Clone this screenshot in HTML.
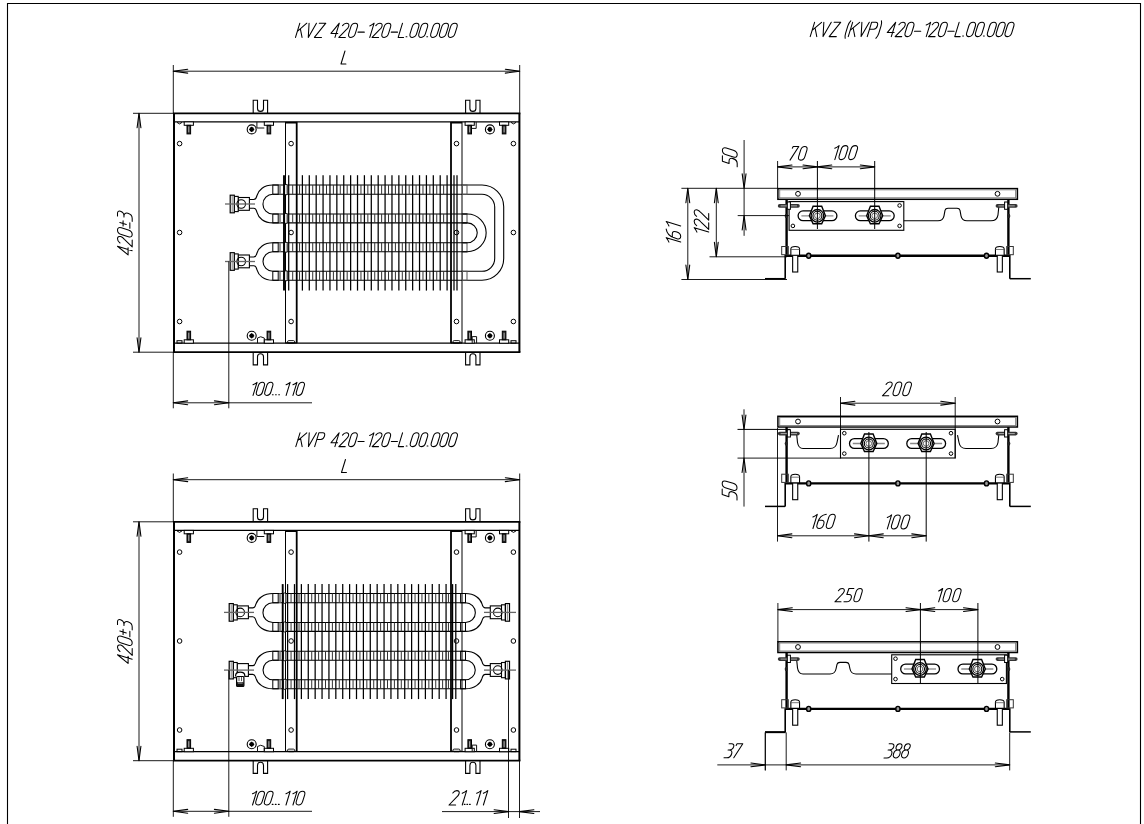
<!DOCTYPE html>
<html><head><meta charset="utf-8"><style>
html,body{margin:0;padding:0;background:#fff;}
svg{display:block;}
text{font-family:"Liberation Sans",sans-serif;font-style:italic;fill:#000;}
</style></head><body>
<svg width="1144" height="824" viewBox="0 0 1144 824" stroke-linecap="butt">
<rect x="0" y="0" width="1144" height="824" fill="#fff"/>
<path d="M7.5,830 L7.5,3.5 L1140.5,3.5 L1140.5,830" stroke="#000" stroke-width="1.1" fill="none"/>
<line x1="174" y1="113.3" x2="174" y2="352.2" stroke="#000" stroke-width="2"/>
<line x1="519.4" y1="113.3" x2="519.4" y2="352.2" stroke="#000" stroke-width="2"/>
<line x1="173" y1="113.3" x2="520.4" y2="113.3" stroke="#000" stroke-width="1.7"/>
<line x1="173" y1="352.2" x2="520.4" y2="352.2" stroke="#000" stroke-width="1.7"/>
<line x1="174" y1="121.9" x2="519.4" y2="121.9" stroke="#000" stroke-width="1.2"/>
<line x1="174" y1="343.2" x2="519.4" y2="343.2" stroke="#000" stroke-width="1.2"/>
<line x1="173.3" y1="65" x2="173.3" y2="113.3" stroke="#000" stroke-width="0.9"/>
<line x1="519.7" y1="65" x2="519.7" y2="113.3" stroke="#000" stroke-width="0.9"/>
<line x1="173.3" y1="71.2" x2="519.7" y2="71.2" stroke="#000" stroke-width="0.9"/>
<path d="M187.7,69.3 L173.3,71.2 L187.7,73.1" stroke="#000" stroke-width="1.1" fill="none" stroke-linecap="round" stroke-linejoin="round"/>
<path d="M505.3,73.1 L519.7,71.2 L505.3,69.3" stroke="#000" stroke-width="1.1" fill="none" stroke-linecap="round" stroke-linejoin="round"/>
<line x1="133" y1="113.3" x2="174" y2="113.3" stroke="#000" stroke-width="0.9"/>
<line x1="133" y1="352.2" x2="174" y2="352.2" stroke="#000" stroke-width="0.9"/>
<line x1="139" y1="113.3" x2="139" y2="352.2" stroke="#000" stroke-width="0.9"/>
<path d="M140.9,127.7 L139,113.3 L137.1,127.7" stroke="#000" stroke-width="1.1" fill="none" stroke-linecap="round" stroke-linejoin="round"/>
<path d="M137.1,337.8 L139,352.2 L140.9,337.8" stroke="#000" stroke-width="1.1" fill="none" stroke-linecap="round" stroke-linejoin="round"/>
<line x1="285.5" y1="121.9" x2="285.5" y2="343.2" stroke="#000" stroke-width="1"/>
<line x1="296.7" y1="121.9" x2="296.7" y2="343.2" stroke="#000" stroke-width="1.8"/>
<rect x="285.5" y="121.9" width="11.2" height="1.6" stroke="#000" stroke-width="0" fill="#000"/>
<rect x="287.5" y="340.6" width="7.2" height="2.6" rx="1.3" stroke="#000" stroke-width="0.9" fill="none"/>
<line x1="285.5" y1="342.9" x2="296.7" y2="342.9" stroke="#000" stroke-width="1.2"/>
<circle cx="291.1" cy="143.6" r="2.3" stroke="#000" stroke-width="1" fill="none"/>
<circle cx="291.1" cy="232.5" r="2.3" stroke="#000" stroke-width="1" fill="none"/>
<circle cx="291.1" cy="321.5" r="2.3" stroke="#000" stroke-width="1" fill="none"/>
<line x1="451" y1="121.9" x2="451" y2="343.2" stroke="#000" stroke-width="1.8"/>
<line x1="462" y1="121.9" x2="462" y2="343.2" stroke="#000" stroke-width="1"/>
<rect x="451" y="121.9" width="11" height="1.6" stroke="#000" stroke-width="0" fill="#000"/>
<rect x="452.9" y="340.6" width="7.2" height="2.6" rx="1.3" stroke="#000" stroke-width="0.9" fill="none"/>
<line x1="451" y1="342.9" x2="462" y2="342.9" stroke="#000" stroke-width="1.2"/>
<circle cx="456.5" cy="143.6" r="2.3" stroke="#000" stroke-width="1" fill="none"/>
<circle cx="456.5" cy="232.5" r="2.3" stroke="#000" stroke-width="1" fill="none"/>
<circle cx="456.5" cy="321.5" r="2.3" stroke="#000" stroke-width="1" fill="none"/>
<circle cx="179.6" cy="143.6" r="2.3" stroke="#000" stroke-width="1" fill="none"/>
<circle cx="179.6" cy="232.5" r="2.3" stroke="#000" stroke-width="1" fill="none"/>
<circle cx="179.6" cy="321.5" r="2.3" stroke="#000" stroke-width="1" fill="none"/>
<circle cx="513.4" cy="143.6" r="2.3" stroke="#000" stroke-width="1" fill="none"/>
<circle cx="513.4" cy="232.5" r="2.3" stroke="#000" stroke-width="1" fill="none"/>
<circle cx="513.4" cy="321.5" r="2.3" stroke="#000" stroke-width="1" fill="none"/>
<path d="M253.2,113 L253.2,100.3 L257.5,100.3 L257.5,108.4 A3.0,3.0 0 0 0 263.5,108.4 L263.5,100.3 L267.6,100.3 L267.6,113" stroke="#000" stroke-width="1.1" fill="none"/>
<path d="M465.6,113 L465.6,100.3 L469.9,100.3 L469.9,108.4 A3.0,3.0 0 0 0 475.9,108.4 L475.9,100.3 L480,100.3 L480,113" stroke="#000" stroke-width="1.1" fill="none"/>
<path d="M253.2,352.2 L253.2,352.2 L253.2,364.9 L257.5,364.9 L257.5,356.8 A3.0,3.0 0 0 1 263.5,356.8 L263.5,364.9 L267.6,364.9 L267.6,352.2" stroke="#000" stroke-width="1.1" fill="none"/>
<path d="M465.6,352.2 L465.6,352.2 L465.6,364.9 L469.9,364.9 L469.9,356.8 A3.0,3.0 0 0 1 475.9,356.8 L475.9,364.9 L480,364.9 L480,352.2" stroke="#000" stroke-width="1.1" fill="none"/>
<rect x="184.2" y="121.9" width="9.2" height="3.4" stroke="#000" stroke-width="1" fill="#fff"/>
<rect x="187" y="125.3" width="3.6" height="8.6" stroke="#000" stroke-width="1" fill="#222"/>
<line x1="188.8" y1="126.4" x2="188.8" y2="132.4" stroke="#ccc" stroke-width="0.9"/>
<rect x="184.2" y="339.8" width="9.2" height="3.4" stroke="#000" stroke-width="1" fill="#fff"/>
<rect x="187" y="331.2" width="3.6" height="8.6" stroke="#000" stroke-width="1" fill="#222"/>
<line x1="188.8" y1="338.7" x2="188.8" y2="332.7" stroke="#ccc" stroke-width="0.9"/>
<rect x="264.3" y="121.9" width="9.2" height="3.4" stroke="#000" stroke-width="1" fill="#fff"/>
<rect x="267.1" y="125.3" width="3.6" height="8.6" stroke="#000" stroke-width="1" fill="#222"/>
<line x1="268.9" y1="126.4" x2="268.9" y2="132.4" stroke="#ccc" stroke-width="0.9"/>
<rect x="264.3" y="339.8" width="9.2" height="3.4" stroke="#000" stroke-width="1" fill="#fff"/>
<rect x="267.1" y="331.2" width="3.6" height="8.6" stroke="#000" stroke-width="1" fill="#222"/>
<line x1="268.9" y1="338.7" x2="268.9" y2="332.7" stroke="#ccc" stroke-width="0.9"/>
<rect x="465.1" y="121.9" width="9.2" height="3.4" stroke="#000" stroke-width="1" fill="#fff"/>
<rect x="467.9" y="125.3" width="3.6" height="8.6" stroke="#000" stroke-width="1" fill="#222"/>
<line x1="469.7" y1="126.4" x2="469.7" y2="132.4" stroke="#ccc" stroke-width="0.9"/>
<rect x="465.1" y="339.8" width="9.2" height="3.4" stroke="#000" stroke-width="1" fill="#fff"/>
<rect x="467.9" y="331.2" width="3.6" height="8.6" stroke="#000" stroke-width="1" fill="#222"/>
<line x1="469.7" y1="338.7" x2="469.7" y2="332.7" stroke="#ccc" stroke-width="0.9"/>
<rect x="499.5" y="121.9" width="9.2" height="3.4" stroke="#000" stroke-width="1" fill="#fff"/>
<rect x="502.3" y="125.3" width="3.6" height="8.6" stroke="#000" stroke-width="1" fill="#222"/>
<line x1="504.1" y1="126.4" x2="504.1" y2="132.4" stroke="#ccc" stroke-width="0.9"/>
<rect x="499.5" y="339.8" width="9.2" height="3.4" stroke="#000" stroke-width="1" fill="#fff"/>
<rect x="502.3" y="331.2" width="3.6" height="8.6" stroke="#000" stroke-width="1" fill="#222"/>
<line x1="504.1" y1="338.7" x2="504.1" y2="332.7" stroke="#ccc" stroke-width="0.9"/>
<circle cx="251.7" cy="129.4" r="4.5" stroke="#000" stroke-width="1.1" fill="none"/>
<circle cx="251.7" cy="129.4" r="2.3" stroke="#000" stroke-width="0" fill="#000"/>
<line x1="249.1" y1="129.4" x2="254.3" y2="129.4" stroke="#000" stroke-width="1"/>
<line x1="251.7" y1="126.8" x2="251.7" y2="132" stroke="#000" stroke-width="1"/>
<circle cx="251.7" cy="335.8" r="4.5" stroke="#000" stroke-width="1.1" fill="none"/>
<circle cx="251.7" cy="335.8" r="2.3" stroke="#000" stroke-width="0" fill="#000"/>
<line x1="249.1" y1="335.8" x2="254.3" y2="335.8" stroke="#000" stroke-width="1"/>
<line x1="251.7" y1="333.2" x2="251.7" y2="338.4" stroke="#000" stroke-width="1"/>
<circle cx="489.9" cy="129.4" r="4.5" stroke="#000" stroke-width="1.1" fill="none"/>
<circle cx="489.9" cy="129.4" r="2.3" stroke="#000" stroke-width="0" fill="#000"/>
<line x1="487.3" y1="129.4" x2="492.5" y2="129.4" stroke="#000" stroke-width="1"/>
<line x1="489.9" y1="126.8" x2="489.9" y2="132" stroke="#000" stroke-width="1"/>
<circle cx="489.9" cy="335.8" r="4.5" stroke="#000" stroke-width="1.1" fill="none"/>
<circle cx="489.9" cy="335.8" r="2.3" stroke="#000" stroke-width="0" fill="#000"/>
<line x1="487.3" y1="335.8" x2="492.5" y2="335.8" stroke="#000" stroke-width="1"/>
<line x1="489.9" y1="333.2" x2="489.9" y2="338.4" stroke="#000" stroke-width="1"/>
<path d="M256.9,121.9 L256.9,128 L264.3,128" stroke="#111" stroke-width="1" fill="none"/>
<path d="M257.5,343.2 L257.5,338 Q260.5,335.5 264.3,338 L264.3,343.2" stroke="#111" stroke-width="1" fill="none"/>
<path d="M476.2,121.9 L476.2,128.4 L471.5,128.4" stroke="#111" stroke-width="1" fill="none"/>
<path d="M472.2,343.2 L472.2,336.6 L476.6,336.6 L476.6,343.2" stroke="#111" stroke-width="1" fill="none"/>
<path d="M177,122.4 Q179.5,125.4 182,122.4" stroke="#000" stroke-width="1" fill="none"/>
<path d="M511,122.4 Q513.5,125.4 516,122.4" stroke="#000" stroke-width="1" fill="none"/>
<rect x="177" y="340.7" width="5" height="2.5" stroke="#000" stroke-width="1" fill="none"/>
<rect x="511" y="340.7" width="5" height="2.5" stroke="#000" stroke-width="1" fill="none"/>
<line x1="272.8" y1="185" x2="482" y2="185" stroke="#000" stroke-width="1.1"/>
<line x1="272.8" y1="194.3" x2="482" y2="194.3" stroke="#000" stroke-width="1.1"/>
<line x1="286.35" y1="185" x2="286.35" y2="194.3" stroke="#333" stroke-width="1"/>
<line x1="292.7" y1="185" x2="292.7" y2="194.3" stroke="#333" stroke-width="1"/>
<line x1="299.55" y1="185" x2="299.55" y2="194.3" stroke="#333" stroke-width="1"/>
<line x1="305.84" y1="185" x2="305.84" y2="194.3" stroke="#333" stroke-width="1"/>
<line x1="312.73" y1="185" x2="312.73" y2="194.3" stroke="#333" stroke-width="1"/>
<line x1="319.62" y1="185" x2="319.62" y2="194.3" stroke="#333" stroke-width="1"/>
<line x1="326.51" y1="185" x2="326.51" y2="194.3" stroke="#333" stroke-width="1"/>
<line x1="333.4" y1="185" x2="333.4" y2="194.3" stroke="#333" stroke-width="1"/>
<line x1="340.29" y1="185" x2="340.29" y2="194.3" stroke="#333" stroke-width="1"/>
<line x1="347.18" y1="185" x2="347.18" y2="194.3" stroke="#333" stroke-width="1"/>
<line x1="354.07" y1="185" x2="354.07" y2="194.3" stroke="#333" stroke-width="1"/>
<line x1="360.96" y1="185" x2="360.96" y2="194.3" stroke="#333" stroke-width="1"/>
<line x1="367.85" y1="185" x2="367.85" y2="194.3" stroke="#333" stroke-width="1"/>
<line x1="374.74" y1="185" x2="374.74" y2="194.3" stroke="#333" stroke-width="1"/>
<line x1="381.63" y1="185" x2="381.63" y2="194.3" stroke="#333" stroke-width="1"/>
<line x1="388.52" y1="185" x2="388.52" y2="194.3" stroke="#333" stroke-width="1"/>
<line x1="395.41" y1="185" x2="395.41" y2="194.3" stroke="#333" stroke-width="1"/>
<line x1="402.3" y1="185" x2="402.3" y2="194.3" stroke="#333" stroke-width="1"/>
<line x1="409.19" y1="185" x2="409.19" y2="194.3" stroke="#333" stroke-width="1"/>
<line x1="416.08" y1="185" x2="416.08" y2="194.3" stroke="#333" stroke-width="1"/>
<line x1="422.97" y1="185" x2="422.97" y2="194.3" stroke="#333" stroke-width="1"/>
<line x1="429.86" y1="185" x2="429.86" y2="194.3" stroke="#333" stroke-width="1"/>
<line x1="436.75" y1="185" x2="436.75" y2="194.3" stroke="#333" stroke-width="1"/>
<line x1="443.64" y1="185" x2="443.64" y2="194.3" stroke="#333" stroke-width="1"/>
<rect x="272.8" y="185" width="5.4" height="9.3" stroke="#000" stroke-width="1" fill="none"/>
<line x1="280" y1="185" x2="280" y2="194.3" stroke="#777" stroke-width="1.6"/>
<rect x="284.6" y="184.5" width="2.6" height="10.3" rx="1" stroke="#000" stroke-width="1" fill="#fff"/>
<rect x="462.5" y="185" width="4.5" height="9.3" stroke="#555" stroke-width="1" fill="none"/>
<line x1="272.8" y1="214" x2="467.3" y2="214" stroke="#000" stroke-width="1.1"/>
<line x1="272.8" y1="222.9" x2="467.3" y2="222.9" stroke="#000" stroke-width="1.1"/>
<line x1="286.35" y1="214" x2="286.35" y2="222.9" stroke="#333" stroke-width="1"/>
<line x1="292.7" y1="214" x2="292.7" y2="222.9" stroke="#333" stroke-width="1"/>
<line x1="299.55" y1="214" x2="299.55" y2="222.9" stroke="#333" stroke-width="1"/>
<line x1="305.84" y1="214" x2="305.84" y2="222.9" stroke="#333" stroke-width="1"/>
<line x1="312.73" y1="214" x2="312.73" y2="222.9" stroke="#333" stroke-width="1"/>
<line x1="319.62" y1="214" x2="319.62" y2="222.9" stroke="#333" stroke-width="1"/>
<line x1="326.51" y1="214" x2="326.51" y2="222.9" stroke="#333" stroke-width="1"/>
<line x1="333.4" y1="214" x2="333.4" y2="222.9" stroke="#333" stroke-width="1"/>
<line x1="340.29" y1="214" x2="340.29" y2="222.9" stroke="#333" stroke-width="1"/>
<line x1="347.18" y1="214" x2="347.18" y2="222.9" stroke="#333" stroke-width="1"/>
<line x1="354.07" y1="214" x2="354.07" y2="222.9" stroke="#333" stroke-width="1"/>
<line x1="360.96" y1="214" x2="360.96" y2="222.9" stroke="#333" stroke-width="1"/>
<line x1="367.85" y1="214" x2="367.85" y2="222.9" stroke="#333" stroke-width="1"/>
<line x1="374.74" y1="214" x2="374.74" y2="222.9" stroke="#333" stroke-width="1"/>
<line x1="381.63" y1="214" x2="381.63" y2="222.9" stroke="#333" stroke-width="1"/>
<line x1="388.52" y1="214" x2="388.52" y2="222.9" stroke="#333" stroke-width="1"/>
<line x1="395.41" y1="214" x2="395.41" y2="222.9" stroke="#333" stroke-width="1"/>
<line x1="402.3" y1="214" x2="402.3" y2="222.9" stroke="#333" stroke-width="1"/>
<line x1="409.19" y1="214" x2="409.19" y2="222.9" stroke="#333" stroke-width="1"/>
<line x1="416.08" y1="214" x2="416.08" y2="222.9" stroke="#333" stroke-width="1"/>
<line x1="422.97" y1="214" x2="422.97" y2="222.9" stroke="#333" stroke-width="1"/>
<line x1="429.86" y1="214" x2="429.86" y2="222.9" stroke="#333" stroke-width="1"/>
<line x1="436.75" y1="214" x2="436.75" y2="222.9" stroke="#333" stroke-width="1"/>
<line x1="443.64" y1="214" x2="443.64" y2="222.9" stroke="#333" stroke-width="1"/>
<rect x="272.8" y="214" width="5.4" height="8.9" stroke="#000" stroke-width="1" fill="none"/>
<line x1="280" y1="214" x2="280" y2="222.9" stroke="#777" stroke-width="1.6"/>
<rect x="284.6" y="213.5" width="2.6" height="9.9" rx="1" stroke="#000" stroke-width="1" fill="#fff"/>
<rect x="462.5" y="214" width="4.5" height="8.9" stroke="#555" stroke-width="1" fill="none"/>
<line x1="272.8" y1="242.8" x2="467.3" y2="242.8" stroke="#000" stroke-width="1.1"/>
<line x1="272.8" y1="251.7" x2="467.3" y2="251.7" stroke="#000" stroke-width="1.1"/>
<line x1="286.35" y1="242.8" x2="286.35" y2="251.7" stroke="#333" stroke-width="1"/>
<line x1="292.7" y1="242.8" x2="292.7" y2="251.7" stroke="#333" stroke-width="1"/>
<line x1="299.55" y1="242.8" x2="299.55" y2="251.7" stroke="#333" stroke-width="1"/>
<line x1="305.84" y1="242.8" x2="305.84" y2="251.7" stroke="#333" stroke-width="1"/>
<line x1="312.73" y1="242.8" x2="312.73" y2="251.7" stroke="#333" stroke-width="1"/>
<line x1="319.62" y1="242.8" x2="319.62" y2="251.7" stroke="#333" stroke-width="1"/>
<line x1="326.51" y1="242.8" x2="326.51" y2="251.7" stroke="#333" stroke-width="1"/>
<line x1="333.4" y1="242.8" x2="333.4" y2="251.7" stroke="#333" stroke-width="1"/>
<line x1="340.29" y1="242.8" x2="340.29" y2="251.7" stroke="#333" stroke-width="1"/>
<line x1="347.18" y1="242.8" x2="347.18" y2="251.7" stroke="#333" stroke-width="1"/>
<line x1="354.07" y1="242.8" x2="354.07" y2="251.7" stroke="#333" stroke-width="1"/>
<line x1="360.96" y1="242.8" x2="360.96" y2="251.7" stroke="#333" stroke-width="1"/>
<line x1="367.85" y1="242.8" x2="367.85" y2="251.7" stroke="#333" stroke-width="1"/>
<line x1="374.74" y1="242.8" x2="374.74" y2="251.7" stroke="#333" stroke-width="1"/>
<line x1="381.63" y1="242.8" x2="381.63" y2="251.7" stroke="#333" stroke-width="1"/>
<line x1="388.52" y1="242.8" x2="388.52" y2="251.7" stroke="#333" stroke-width="1"/>
<line x1="395.41" y1="242.8" x2="395.41" y2="251.7" stroke="#333" stroke-width="1"/>
<line x1="402.3" y1="242.8" x2="402.3" y2="251.7" stroke="#333" stroke-width="1"/>
<line x1="409.19" y1="242.8" x2="409.19" y2="251.7" stroke="#333" stroke-width="1"/>
<line x1="416.08" y1="242.8" x2="416.08" y2="251.7" stroke="#333" stroke-width="1"/>
<line x1="422.97" y1="242.8" x2="422.97" y2="251.7" stroke="#333" stroke-width="1"/>
<line x1="429.86" y1="242.8" x2="429.86" y2="251.7" stroke="#333" stroke-width="1"/>
<line x1="436.75" y1="242.8" x2="436.75" y2="251.7" stroke="#333" stroke-width="1"/>
<line x1="443.64" y1="242.8" x2="443.64" y2="251.7" stroke="#333" stroke-width="1"/>
<rect x="272.8" y="242.8" width="5.4" height="8.9" stroke="#000" stroke-width="1" fill="none"/>
<line x1="280" y1="242.8" x2="280" y2="251.7" stroke="#777" stroke-width="1.6"/>
<rect x="284.6" y="242.3" width="2.6" height="9.9" rx="1" stroke="#000" stroke-width="1" fill="#fff"/>
<rect x="462.5" y="242.8" width="4.5" height="8.9" stroke="#555" stroke-width="1" fill="none"/>
<line x1="272.8" y1="271.3" x2="482" y2="271.3" stroke="#000" stroke-width="1.1"/>
<line x1="272.8" y1="280.3" x2="482" y2="280.3" stroke="#000" stroke-width="1.1"/>
<line x1="286.35" y1="271.3" x2="286.35" y2="280.3" stroke="#333" stroke-width="1"/>
<line x1="292.7" y1="271.3" x2="292.7" y2="280.3" stroke="#333" stroke-width="1"/>
<line x1="299.55" y1="271.3" x2="299.55" y2="280.3" stroke="#333" stroke-width="1"/>
<line x1="305.84" y1="271.3" x2="305.84" y2="280.3" stroke="#333" stroke-width="1"/>
<line x1="312.73" y1="271.3" x2="312.73" y2="280.3" stroke="#333" stroke-width="1"/>
<line x1="319.62" y1="271.3" x2="319.62" y2="280.3" stroke="#333" stroke-width="1"/>
<line x1="326.51" y1="271.3" x2="326.51" y2="280.3" stroke="#333" stroke-width="1"/>
<line x1="333.4" y1="271.3" x2="333.4" y2="280.3" stroke="#333" stroke-width="1"/>
<line x1="340.29" y1="271.3" x2="340.29" y2="280.3" stroke="#333" stroke-width="1"/>
<line x1="347.18" y1="271.3" x2="347.18" y2="280.3" stroke="#333" stroke-width="1"/>
<line x1="354.07" y1="271.3" x2="354.07" y2="280.3" stroke="#333" stroke-width="1"/>
<line x1="360.96" y1="271.3" x2="360.96" y2="280.3" stroke="#333" stroke-width="1"/>
<line x1="367.85" y1="271.3" x2="367.85" y2="280.3" stroke="#333" stroke-width="1"/>
<line x1="374.74" y1="271.3" x2="374.74" y2="280.3" stroke="#333" stroke-width="1"/>
<line x1="381.63" y1="271.3" x2="381.63" y2="280.3" stroke="#333" stroke-width="1"/>
<line x1="388.52" y1="271.3" x2="388.52" y2="280.3" stroke="#333" stroke-width="1"/>
<line x1="395.41" y1="271.3" x2="395.41" y2="280.3" stroke="#333" stroke-width="1"/>
<line x1="402.3" y1="271.3" x2="402.3" y2="280.3" stroke="#333" stroke-width="1"/>
<line x1="409.19" y1="271.3" x2="409.19" y2="280.3" stroke="#333" stroke-width="1"/>
<line x1="416.08" y1="271.3" x2="416.08" y2="280.3" stroke="#333" stroke-width="1"/>
<line x1="422.97" y1="271.3" x2="422.97" y2="280.3" stroke="#333" stroke-width="1"/>
<line x1="429.86" y1="271.3" x2="429.86" y2="280.3" stroke="#333" stroke-width="1"/>
<line x1="436.75" y1="271.3" x2="436.75" y2="280.3" stroke="#333" stroke-width="1"/>
<line x1="443.64" y1="271.3" x2="443.64" y2="280.3" stroke="#333" stroke-width="1"/>
<rect x="272.8" y="271.3" width="5.4" height="9" stroke="#000" stroke-width="1" fill="none"/>
<line x1="280" y1="271.3" x2="280" y2="280.3" stroke="#777" stroke-width="1.6"/>
<rect x="284.6" y="270.8" width="2.6" height="10" rx="1" stroke="#000" stroke-width="1" fill="#fff"/>
<rect x="462.5" y="271.3" width="4.5" height="9" stroke="#555" stroke-width="1" fill="none"/>
<line x1="284" y1="175.2" x2="284" y2="290.6" stroke="#000" stroke-width="1.9"/>
<line x1="288.7" y1="175.2" x2="288.7" y2="290.6" stroke="#000" stroke-width="1.25"/>
<line x1="302.4" y1="175.2" x2="302.4" y2="290.6" stroke="#000" stroke-width="1.25"/>
<line x1="309.29" y1="175.2" x2="309.29" y2="290.6" stroke="#000" stroke-width="1.25"/>
<line x1="316.18" y1="175.2" x2="316.18" y2="290.6" stroke="#000" stroke-width="1.25"/>
<line x1="323.07" y1="175.2" x2="323.07" y2="290.6" stroke="#000" stroke-width="1.25"/>
<line x1="329.96" y1="175.2" x2="329.96" y2="290.6" stroke="#000" stroke-width="1.25"/>
<line x1="336.85" y1="175.2" x2="336.85" y2="290.6" stroke="#000" stroke-width="1.25"/>
<line x1="343.74" y1="175.2" x2="343.74" y2="290.6" stroke="#000" stroke-width="1.25"/>
<line x1="350.63" y1="175.2" x2="350.63" y2="290.6" stroke="#000" stroke-width="1.25"/>
<line x1="357.52" y1="175.2" x2="357.52" y2="290.6" stroke="#000" stroke-width="1.25"/>
<line x1="364.41" y1="175.2" x2="364.41" y2="290.6" stroke="#000" stroke-width="1.25"/>
<line x1="371.3" y1="175.2" x2="371.3" y2="290.6" stroke="#000" stroke-width="1.25"/>
<line x1="378.19" y1="175.2" x2="378.19" y2="290.6" stroke="#000" stroke-width="1.25"/>
<line x1="385.08" y1="175.2" x2="385.08" y2="290.6" stroke="#000" stroke-width="1.25"/>
<line x1="391.97" y1="175.2" x2="391.97" y2="290.6" stroke="#000" stroke-width="1.25"/>
<line x1="398.86" y1="175.2" x2="398.86" y2="290.6" stroke="#000" stroke-width="1.25"/>
<line x1="405.75" y1="175.2" x2="405.75" y2="290.6" stroke="#000" stroke-width="1.25"/>
<line x1="412.64" y1="175.2" x2="412.64" y2="290.6" stroke="#000" stroke-width="1.25"/>
<line x1="419.53" y1="175.2" x2="419.53" y2="290.6" stroke="#000" stroke-width="1.25"/>
<line x1="426.42" y1="175.2" x2="426.42" y2="290.6" stroke="#000" stroke-width="1.25"/>
<line x1="433.31" y1="175.2" x2="433.31" y2="290.6" stroke="#000" stroke-width="1.25"/>
<line x1="440.2" y1="175.2" x2="440.2" y2="290.6" stroke="#000" stroke-width="1.25"/>
<line x1="447.09" y1="175.2" x2="447.09" y2="290.6" stroke="#000" stroke-width="1.25"/>
<line x1="454" y1="175.2" x2="454" y2="290.6" stroke="#000" stroke-width="1.25"/>
<line x1="457" y1="175.2" x2="457" y2="290.6" stroke="#000" stroke-width="1.25"/>
<path d="M272.8,194.3 A9.85,9.85 0 0 0 272.8,214" stroke="#000" stroke-width="1.1" fill="none"/>
<path d="M272.8,185 C263.8,185 258.5,190 257,195.5 Q256,199.5 253.7,199.5 L249.4,199.5" stroke="#000" stroke-width="1.1" fill="none"/>
<path d="M272.8,222.9 C263.8,222.9 258.5,217.9 257,212.3 Q256,208.3 253.7,208.3 L249.4,208.3" stroke="#000" stroke-width="1.1" fill="none"/>
<rect x="238.2" y="197.5" width="11.2" height="12.8" stroke="#000" stroke-width="1.1" fill="#fff"/>
<rect x="234.3" y="196.4" width="3.9" height="15.2" stroke="#000" stroke-width="1.1" fill="#fff"/>
<rect x="230.2" y="195.2" width="4.1" height="17.6" stroke="#000" stroke-width="1.2" fill="#fff"/>
<line x1="232.2" y1="196" x2="232.2" y2="212" stroke="#666" stroke-width="0.8"/>
<circle cx="241.2" cy="204" r="4.3" stroke="#000" stroke-width="1.1" fill="none"/>
<line x1="225" y1="204" x2="255" y2="204" stroke="#666" stroke-width="1.3"/>
<path d="M272.8,251.7 A9.8,9.8 0 0 0 272.8,271.3" stroke="#000" stroke-width="1.1" fill="none"/>
<path d="M272.8,242.8 C263.8,242.8 258.5,247.8 257,253 Q256,257 253.7,257 L249.4,257" stroke="#000" stroke-width="1.1" fill="none"/>
<path d="M272.8,280.3 C263.8,280.3 258.5,275.3 257,269.8 Q256,265.8 253.7,265.8 L249.4,265.8" stroke="#000" stroke-width="1.1" fill="none"/>
<rect x="238.2" y="255" width="11.2" height="12.8" stroke="#000" stroke-width="1.1" fill="#fff"/>
<rect x="234.3" y="253.9" width="3.9" height="15.2" stroke="#000" stroke-width="1.1" fill="#fff"/>
<rect x="230.2" y="252.7" width="4.1" height="17.6" stroke="#000" stroke-width="1.2" fill="#fff"/>
<line x1="232.2" y1="253.5" x2="232.2" y2="269.5" stroke="#666" stroke-width="0.8"/>
<circle cx="241.2" cy="261.5" r="4.3" stroke="#000" stroke-width="1.1" fill="none"/>
<line x1="225" y1="261.5" x2="255" y2="261.5" stroke="#666" stroke-width="1.3"/>
<path d="M482,185 L482,185 A21.7,21.7 0 0 1 503.7,206.7 L503.7,258.6 A21.7,21.7 0 0 1 482,280.3 L482,280.3" stroke="#000" stroke-width="1.1" fill="none"/>
<path d="M482,194.3 L482,194.3 A12.7,12.7 0 0 1 494.7,207 L494.7,258.6 A12.7,12.7 0 0 1 482,271.3 L482,271.3" stroke="#000" stroke-width="1.1" fill="none"/>
<path d="M462,214 L467.3,214 A18.85,18.85 0 0 1 467.3,251.7 L462,251.7" stroke="#000" stroke-width="1.1" fill="none"/>
<path d="M462,222.9 L467.3,222.9 A9.95,9.95 0 0 1 467.3,242.8 L462,242.8" stroke="#000" stroke-width="1.1" fill="none"/>
<line x1="228.8" y1="261.5" x2="228.8" y2="408.3" stroke="#000" stroke-width="0.9"/>
<line x1="173.3" y1="352.2" x2="173.3" y2="408.3" stroke="#000" stroke-width="0.9"/>
<line x1="173.3" y1="402.8" x2="312" y2="402.8" stroke="#000" stroke-width="0.9"/>
<path d="M187.7,400.9 L173.3,402.8 L187.7,404.7" stroke="#000" stroke-width="1.1" fill="none" stroke-linecap="round" stroke-linejoin="round"/>
<path d="M214.4,404.7 L228.8,402.8 L214.4,400.9" stroke="#000" stroke-width="1.1" fill="none" stroke-linecap="round" stroke-linejoin="round"/>
<line x1="174" y1="521.8" x2="174" y2="760.7" stroke="#000" stroke-width="2"/>
<line x1="519.4" y1="521.8" x2="519.4" y2="760.7" stroke="#000" stroke-width="2"/>
<line x1="173" y1="521.8" x2="520.4" y2="521.8" stroke="#000" stroke-width="1.7"/>
<line x1="173" y1="760.7" x2="520.4" y2="760.7" stroke="#000" stroke-width="1.7"/>
<line x1="174" y1="530.4" x2="519.4" y2="530.4" stroke="#000" stroke-width="1.2"/>
<line x1="174" y1="751.7" x2="519.4" y2="751.7" stroke="#000" stroke-width="1.2"/>
<line x1="173.3" y1="473.5" x2="173.3" y2="521.8" stroke="#000" stroke-width="0.9"/>
<line x1="519.7" y1="473.5" x2="519.7" y2="521.8" stroke="#000" stroke-width="0.9"/>
<line x1="173.3" y1="479.7" x2="519.7" y2="479.7" stroke="#000" stroke-width="0.9"/>
<path d="M187.7,477.8 L173.3,479.7 L187.7,481.6" stroke="#000" stroke-width="1.1" fill="none" stroke-linecap="round" stroke-linejoin="round"/>
<path d="M505.3,481.6 L519.7,479.7 L505.3,477.8" stroke="#000" stroke-width="1.1" fill="none" stroke-linecap="round" stroke-linejoin="round"/>
<line x1="133" y1="521.8" x2="174" y2="521.8" stroke="#000" stroke-width="0.9"/>
<line x1="133" y1="760.7" x2="174" y2="760.7" stroke="#000" stroke-width="0.9"/>
<line x1="139" y1="521.8" x2="139" y2="760.7" stroke="#000" stroke-width="0.9"/>
<path d="M140.9,536.2 L139,521.8 L137.1,536.2" stroke="#000" stroke-width="1.1" fill="none" stroke-linecap="round" stroke-linejoin="round"/>
<path d="M137.1,746.3 L139,760.7 L140.9,746.3" stroke="#000" stroke-width="1.1" fill="none" stroke-linecap="round" stroke-linejoin="round"/>
<line x1="285.5" y1="530.4" x2="285.5" y2="751.7" stroke="#000" stroke-width="1"/>
<line x1="296.7" y1="530.4" x2="296.7" y2="751.7" stroke="#000" stroke-width="1.8"/>
<rect x="285.5" y="530.4" width="11.2" height="1.6" stroke="#000" stroke-width="0" fill="#000"/>
<rect x="287.5" y="749.1" width="7.2" height="2.6" rx="1.3" stroke="#000" stroke-width="0.9" fill="none"/>
<line x1="285.5" y1="751.4" x2="296.7" y2="751.4" stroke="#000" stroke-width="1.2"/>
<circle cx="291.1" cy="552.1" r="2.3" stroke="#000" stroke-width="1" fill="none"/>
<circle cx="291.1" cy="641" r="2.3" stroke="#000" stroke-width="1" fill="none"/>
<circle cx="291.1" cy="730" r="2.3" stroke="#000" stroke-width="1" fill="none"/>
<line x1="451" y1="530.4" x2="451" y2="751.7" stroke="#000" stroke-width="1.8"/>
<line x1="462" y1="530.4" x2="462" y2="751.7" stroke="#000" stroke-width="1"/>
<rect x="451" y="530.4" width="11" height="1.6" stroke="#000" stroke-width="0" fill="#000"/>
<rect x="452.9" y="749.1" width="7.2" height="2.6" rx="1.3" stroke="#000" stroke-width="0.9" fill="none"/>
<line x1="451" y1="751.4" x2="462" y2="751.4" stroke="#000" stroke-width="1.2"/>
<circle cx="456.5" cy="552.1" r="2.3" stroke="#000" stroke-width="1" fill="none"/>
<circle cx="456.5" cy="641" r="2.3" stroke="#000" stroke-width="1" fill="none"/>
<circle cx="456.5" cy="730" r="2.3" stroke="#000" stroke-width="1" fill="none"/>
<circle cx="179.6" cy="552.1" r="2.3" stroke="#000" stroke-width="1" fill="none"/>
<circle cx="179.6" cy="641" r="2.3" stroke="#000" stroke-width="1" fill="none"/>
<circle cx="179.6" cy="730" r="2.3" stroke="#000" stroke-width="1" fill="none"/>
<circle cx="513.4" cy="552.1" r="2.3" stroke="#000" stroke-width="1" fill="none"/>
<circle cx="513.4" cy="641" r="2.3" stroke="#000" stroke-width="1" fill="none"/>
<circle cx="513.4" cy="730" r="2.3" stroke="#000" stroke-width="1" fill="none"/>
<path d="M253.2,521.5 L253.2,508.8 L257.5,508.8 L257.5,516.9 A3.0,3.0 0 0 0 263.5,516.9 L263.5,508.8 L267.6,508.8 L267.6,521.5" stroke="#000" stroke-width="1.1" fill="none"/>
<path d="M465.6,521.5 L465.6,508.8 L469.9,508.8 L469.9,516.9 A3.0,3.0 0 0 0 475.9,516.9 L475.9,508.8 L480,508.8 L480,521.5" stroke="#000" stroke-width="1.1" fill="none"/>
<path d="M253.2,760.7 L253.2,760.7 L253.2,773.4 L257.5,773.4 L257.5,765.3 A3.0,3.0 0 0 1 263.5,765.3 L263.5,773.4 L267.6,773.4 L267.6,760.7" stroke="#000" stroke-width="1.1" fill="none"/>
<path d="M465.6,760.7 L465.6,760.7 L465.6,773.4 L469.9,773.4 L469.9,765.3 A3.0,3.0 0 0 1 475.9,765.3 L475.9,773.4 L480,773.4 L480,760.7" stroke="#000" stroke-width="1.1" fill="none"/>
<rect x="184.2" y="530.4" width="9.2" height="3.4" stroke="#000" stroke-width="1" fill="#fff"/>
<rect x="187" y="533.8" width="3.6" height="8.6" stroke="#000" stroke-width="1" fill="#222"/>
<line x1="188.8" y1="534.9" x2="188.8" y2="540.9" stroke="#ccc" stroke-width="0.9"/>
<rect x="184.2" y="748.3" width="9.2" height="3.4" stroke="#000" stroke-width="1" fill="#fff"/>
<rect x="187" y="739.7" width="3.6" height="8.6" stroke="#000" stroke-width="1" fill="#222"/>
<line x1="188.8" y1="747.2" x2="188.8" y2="741.2" stroke="#ccc" stroke-width="0.9"/>
<rect x="264.3" y="530.4" width="9.2" height="3.4" stroke="#000" stroke-width="1" fill="#fff"/>
<rect x="267.1" y="533.8" width="3.6" height="8.6" stroke="#000" stroke-width="1" fill="#222"/>
<line x1="268.9" y1="534.9" x2="268.9" y2="540.9" stroke="#ccc" stroke-width="0.9"/>
<rect x="264.3" y="748.3" width="9.2" height="3.4" stroke="#000" stroke-width="1" fill="#fff"/>
<rect x="267.1" y="739.7" width="3.6" height="8.6" stroke="#000" stroke-width="1" fill="#222"/>
<line x1="268.9" y1="747.2" x2="268.9" y2="741.2" stroke="#ccc" stroke-width="0.9"/>
<rect x="465.1" y="530.4" width="9.2" height="3.4" stroke="#000" stroke-width="1" fill="#fff"/>
<rect x="467.9" y="533.8" width="3.6" height="8.6" stroke="#000" stroke-width="1" fill="#222"/>
<line x1="469.7" y1="534.9" x2="469.7" y2="540.9" stroke="#ccc" stroke-width="0.9"/>
<rect x="465.1" y="748.3" width="9.2" height="3.4" stroke="#000" stroke-width="1" fill="#fff"/>
<rect x="467.9" y="739.7" width="3.6" height="8.6" stroke="#000" stroke-width="1" fill="#222"/>
<line x1="469.7" y1="747.2" x2="469.7" y2="741.2" stroke="#ccc" stroke-width="0.9"/>
<rect x="499.5" y="530.4" width="9.2" height="3.4" stroke="#000" stroke-width="1" fill="#fff"/>
<rect x="502.3" y="533.8" width="3.6" height="8.6" stroke="#000" stroke-width="1" fill="#222"/>
<line x1="504.1" y1="534.9" x2="504.1" y2="540.9" stroke="#ccc" stroke-width="0.9"/>
<rect x="499.5" y="748.3" width="9.2" height="3.4" stroke="#000" stroke-width="1" fill="#fff"/>
<rect x="502.3" y="739.7" width="3.6" height="8.6" stroke="#000" stroke-width="1" fill="#222"/>
<line x1="504.1" y1="747.2" x2="504.1" y2="741.2" stroke="#ccc" stroke-width="0.9"/>
<circle cx="251.7" cy="537.9" r="4.5" stroke="#000" stroke-width="1.1" fill="none"/>
<circle cx="251.7" cy="537.9" r="2.3" stroke="#000" stroke-width="0" fill="#000"/>
<line x1="249.1" y1="537.9" x2="254.3" y2="537.9" stroke="#000" stroke-width="1"/>
<line x1="251.7" y1="535.3" x2="251.7" y2="540.5" stroke="#000" stroke-width="1"/>
<circle cx="251.7" cy="744.3" r="4.5" stroke="#000" stroke-width="1.1" fill="none"/>
<circle cx="251.7" cy="744.3" r="2.3" stroke="#000" stroke-width="0" fill="#000"/>
<line x1="249.1" y1="744.3" x2="254.3" y2="744.3" stroke="#000" stroke-width="1"/>
<line x1="251.7" y1="741.7" x2="251.7" y2="746.9" stroke="#000" stroke-width="1"/>
<circle cx="489.9" cy="537.9" r="4.5" stroke="#000" stroke-width="1.1" fill="none"/>
<circle cx="489.9" cy="537.9" r="2.3" stroke="#000" stroke-width="0" fill="#000"/>
<line x1="487.3" y1="537.9" x2="492.5" y2="537.9" stroke="#000" stroke-width="1"/>
<line x1="489.9" y1="535.3" x2="489.9" y2="540.5" stroke="#000" stroke-width="1"/>
<circle cx="489.9" cy="744.3" r="4.5" stroke="#000" stroke-width="1.1" fill="none"/>
<circle cx="489.9" cy="744.3" r="2.3" stroke="#000" stroke-width="0" fill="#000"/>
<line x1="487.3" y1="744.3" x2="492.5" y2="744.3" stroke="#000" stroke-width="1"/>
<line x1="489.9" y1="741.7" x2="489.9" y2="746.9" stroke="#000" stroke-width="1"/>
<path d="M256.9,530.4 L256.9,536.5 L264.3,536.5" stroke="#111" stroke-width="1" fill="none"/>
<path d="M257.5,751.7 L257.5,746.5 Q260.5,744 264.3,746.5 L264.3,751.7" stroke="#111" stroke-width="1" fill="none"/>
<path d="M476.2,530.4 L476.2,536.9 L471.5,536.9" stroke="#111" stroke-width="1" fill="none"/>
<path d="M472.2,751.7 L472.2,745.1 L476.6,745.1 L476.6,751.7" stroke="#111" stroke-width="1" fill="none"/>
<path d="M177,530.9 Q179.5,533.9 182,530.9" stroke="#000" stroke-width="1" fill="none"/>
<path d="M511,530.9 Q513.5,533.9 516,530.9" stroke="#000" stroke-width="1" fill="none"/>
<rect x="177" y="749.2" width="5" height="2.5" stroke="#000" stroke-width="1" fill="none"/>
<rect x="511" y="749.2" width="5" height="2.5" stroke="#000" stroke-width="1" fill="none"/>
<line x1="272.8" y1="593.5" x2="465.5" y2="593.5" stroke="#000" stroke-width="1.1"/>
<line x1="272.8" y1="602.8" x2="465.5" y2="602.8" stroke="#000" stroke-width="1.1"/>
<line x1="285.15" y1="593.5" x2="285.15" y2="602.8" stroke="#333" stroke-width="1"/>
<line x1="291.05" y1="593.5" x2="291.05" y2="602.8" stroke="#333" stroke-width="1"/>
<line x1="299.04" y1="593.5" x2="299.04" y2="602.8" stroke="#333" stroke-width="1"/>
<line x1="304.83" y1="593.5" x2="304.83" y2="602.8" stroke="#333" stroke-width="1"/>
<line x1="311.72" y1="593.5" x2="311.72" y2="602.8" stroke="#333" stroke-width="1"/>
<line x1="318.61" y1="593.5" x2="318.61" y2="602.8" stroke="#333" stroke-width="1"/>
<line x1="325.5" y1="593.5" x2="325.5" y2="602.8" stroke="#333" stroke-width="1"/>
<line x1="332.38" y1="593.5" x2="332.38" y2="602.8" stroke="#333" stroke-width="1"/>
<line x1="339.28" y1="593.5" x2="339.28" y2="602.8" stroke="#333" stroke-width="1"/>
<line x1="346.17" y1="593.5" x2="346.17" y2="602.8" stroke="#333" stroke-width="1"/>
<line x1="353.06" y1="593.5" x2="353.06" y2="602.8" stroke="#333" stroke-width="1"/>
<line x1="359.94" y1="593.5" x2="359.94" y2="602.8" stroke="#333" stroke-width="1"/>
<line x1="366.84" y1="593.5" x2="366.84" y2="602.8" stroke="#333" stroke-width="1"/>
<line x1="373.73" y1="593.5" x2="373.73" y2="602.8" stroke="#333" stroke-width="1"/>
<line x1="380.62" y1="593.5" x2="380.62" y2="602.8" stroke="#333" stroke-width="1"/>
<line x1="387.5" y1="593.5" x2="387.5" y2="602.8" stroke="#333" stroke-width="1"/>
<line x1="394.4" y1="593.5" x2="394.4" y2="602.8" stroke="#333" stroke-width="1"/>
<line x1="401.29" y1="593.5" x2="401.29" y2="602.8" stroke="#333" stroke-width="1"/>
<line x1="408.18" y1="593.5" x2="408.18" y2="602.8" stroke="#333" stroke-width="1"/>
<line x1="415.06" y1="593.5" x2="415.06" y2="602.8" stroke="#333" stroke-width="1"/>
<line x1="421.95" y1="593.5" x2="421.95" y2="602.8" stroke="#333" stroke-width="1"/>
<line x1="428.85" y1="593.5" x2="428.85" y2="602.8" stroke="#333" stroke-width="1"/>
<line x1="435.74" y1="593.5" x2="435.74" y2="602.8" stroke="#333" stroke-width="1"/>
<line x1="442.62" y1="593.5" x2="442.62" y2="602.8" stroke="#333" stroke-width="1"/>
<line x1="448.44" y1="593.5" x2="448.44" y2="602.8" stroke="#333" stroke-width="1"/>
<rect x="272.8" y="593.5" width="5.4" height="9.3" stroke="#000" stroke-width="1" fill="none"/>
<line x1="280" y1="593.5" x2="280" y2="602.8" stroke="#777" stroke-width="1.6"/>
<rect x="283.3" y="593" width="2.6" height="10.3" rx="1" stroke="#000" stroke-width="1" fill="#fff"/>
<rect x="460.6" y="593.5" width="4.9" height="9.3" stroke="#000" stroke-width="1" fill="none"/>
<line x1="272.8" y1="622.5" x2="465.5" y2="622.5" stroke="#000" stroke-width="1.1"/>
<line x1="272.8" y1="631.4" x2="465.5" y2="631.4" stroke="#000" stroke-width="1.1"/>
<line x1="285.15" y1="622.5" x2="285.15" y2="631.4" stroke="#333" stroke-width="1"/>
<line x1="291.05" y1="622.5" x2="291.05" y2="631.4" stroke="#333" stroke-width="1"/>
<line x1="299.04" y1="622.5" x2="299.04" y2="631.4" stroke="#333" stroke-width="1"/>
<line x1="304.83" y1="622.5" x2="304.83" y2="631.4" stroke="#333" stroke-width="1"/>
<line x1="311.72" y1="622.5" x2="311.72" y2="631.4" stroke="#333" stroke-width="1"/>
<line x1="318.61" y1="622.5" x2="318.61" y2="631.4" stroke="#333" stroke-width="1"/>
<line x1="325.5" y1="622.5" x2="325.5" y2="631.4" stroke="#333" stroke-width="1"/>
<line x1="332.38" y1="622.5" x2="332.38" y2="631.4" stroke="#333" stroke-width="1"/>
<line x1="339.28" y1="622.5" x2="339.28" y2="631.4" stroke="#333" stroke-width="1"/>
<line x1="346.17" y1="622.5" x2="346.17" y2="631.4" stroke="#333" stroke-width="1"/>
<line x1="353.06" y1="622.5" x2="353.06" y2="631.4" stroke="#333" stroke-width="1"/>
<line x1="359.94" y1="622.5" x2="359.94" y2="631.4" stroke="#333" stroke-width="1"/>
<line x1="366.84" y1="622.5" x2="366.84" y2="631.4" stroke="#333" stroke-width="1"/>
<line x1="373.73" y1="622.5" x2="373.73" y2="631.4" stroke="#333" stroke-width="1"/>
<line x1="380.62" y1="622.5" x2="380.62" y2="631.4" stroke="#333" stroke-width="1"/>
<line x1="387.5" y1="622.5" x2="387.5" y2="631.4" stroke="#333" stroke-width="1"/>
<line x1="394.4" y1="622.5" x2="394.4" y2="631.4" stroke="#333" stroke-width="1"/>
<line x1="401.29" y1="622.5" x2="401.29" y2="631.4" stroke="#333" stroke-width="1"/>
<line x1="408.18" y1="622.5" x2="408.18" y2="631.4" stroke="#333" stroke-width="1"/>
<line x1="415.06" y1="622.5" x2="415.06" y2="631.4" stroke="#333" stroke-width="1"/>
<line x1="421.95" y1="622.5" x2="421.95" y2="631.4" stroke="#333" stroke-width="1"/>
<line x1="428.85" y1="622.5" x2="428.85" y2="631.4" stroke="#333" stroke-width="1"/>
<line x1="435.74" y1="622.5" x2="435.74" y2="631.4" stroke="#333" stroke-width="1"/>
<line x1="442.62" y1="622.5" x2="442.62" y2="631.4" stroke="#333" stroke-width="1"/>
<line x1="448.44" y1="622.5" x2="448.44" y2="631.4" stroke="#333" stroke-width="1"/>
<rect x="272.8" y="622.5" width="5.4" height="8.9" stroke="#000" stroke-width="1" fill="none"/>
<line x1="280" y1="622.5" x2="280" y2="631.4" stroke="#777" stroke-width="1.6"/>
<rect x="283.3" y="622" width="2.6" height="9.9" rx="1" stroke="#000" stroke-width="1" fill="#fff"/>
<rect x="460.6" y="622.5" width="4.9" height="8.9" stroke="#000" stroke-width="1" fill="none"/>
<line x1="272.8" y1="651.3" x2="465.5" y2="651.3" stroke="#000" stroke-width="1.1"/>
<line x1="272.8" y1="660.2" x2="465.5" y2="660.2" stroke="#000" stroke-width="1.1"/>
<line x1="285.15" y1="651.3" x2="285.15" y2="660.2" stroke="#333" stroke-width="1"/>
<line x1="291.05" y1="651.3" x2="291.05" y2="660.2" stroke="#333" stroke-width="1"/>
<line x1="299.04" y1="651.3" x2="299.04" y2="660.2" stroke="#333" stroke-width="1"/>
<line x1="304.83" y1="651.3" x2="304.83" y2="660.2" stroke="#333" stroke-width="1"/>
<line x1="311.72" y1="651.3" x2="311.72" y2="660.2" stroke="#333" stroke-width="1"/>
<line x1="318.61" y1="651.3" x2="318.61" y2="660.2" stroke="#333" stroke-width="1"/>
<line x1="325.5" y1="651.3" x2="325.5" y2="660.2" stroke="#333" stroke-width="1"/>
<line x1="332.38" y1="651.3" x2="332.38" y2="660.2" stroke="#333" stroke-width="1"/>
<line x1="339.28" y1="651.3" x2="339.28" y2="660.2" stroke="#333" stroke-width="1"/>
<line x1="346.17" y1="651.3" x2="346.17" y2="660.2" stroke="#333" stroke-width="1"/>
<line x1="353.06" y1="651.3" x2="353.06" y2="660.2" stroke="#333" stroke-width="1"/>
<line x1="359.94" y1="651.3" x2="359.94" y2="660.2" stroke="#333" stroke-width="1"/>
<line x1="366.84" y1="651.3" x2="366.84" y2="660.2" stroke="#333" stroke-width="1"/>
<line x1="373.73" y1="651.3" x2="373.73" y2="660.2" stroke="#333" stroke-width="1"/>
<line x1="380.62" y1="651.3" x2="380.62" y2="660.2" stroke="#333" stroke-width="1"/>
<line x1="387.5" y1="651.3" x2="387.5" y2="660.2" stroke="#333" stroke-width="1"/>
<line x1="394.4" y1="651.3" x2="394.4" y2="660.2" stroke="#333" stroke-width="1"/>
<line x1="401.29" y1="651.3" x2="401.29" y2="660.2" stroke="#333" stroke-width="1"/>
<line x1="408.18" y1="651.3" x2="408.18" y2="660.2" stroke="#333" stroke-width="1"/>
<line x1="415.06" y1="651.3" x2="415.06" y2="660.2" stroke="#333" stroke-width="1"/>
<line x1="421.95" y1="651.3" x2="421.95" y2="660.2" stroke="#333" stroke-width="1"/>
<line x1="428.85" y1="651.3" x2="428.85" y2="660.2" stroke="#333" stroke-width="1"/>
<line x1="435.74" y1="651.3" x2="435.74" y2="660.2" stroke="#333" stroke-width="1"/>
<line x1="442.62" y1="651.3" x2="442.62" y2="660.2" stroke="#333" stroke-width="1"/>
<line x1="448.44" y1="651.3" x2="448.44" y2="660.2" stroke="#333" stroke-width="1"/>
<rect x="272.8" y="651.3" width="5.4" height="8.9" stroke="#000" stroke-width="1" fill="none"/>
<line x1="280" y1="651.3" x2="280" y2="660.2" stroke="#777" stroke-width="1.6"/>
<rect x="283.3" y="650.8" width="2.6" height="9.9" rx="1" stroke="#000" stroke-width="1" fill="#fff"/>
<rect x="460.6" y="651.3" width="4.9" height="8.9" stroke="#000" stroke-width="1" fill="none"/>
<line x1="272.8" y1="679.8" x2="465.5" y2="679.8" stroke="#000" stroke-width="1.1"/>
<line x1="272.8" y1="688.8" x2="465.5" y2="688.8" stroke="#000" stroke-width="1.1"/>
<line x1="285.15" y1="679.8" x2="285.15" y2="688.8" stroke="#333" stroke-width="1"/>
<line x1="291.05" y1="679.8" x2="291.05" y2="688.8" stroke="#333" stroke-width="1"/>
<line x1="299.04" y1="679.8" x2="299.04" y2="688.8" stroke="#333" stroke-width="1"/>
<line x1="304.83" y1="679.8" x2="304.83" y2="688.8" stroke="#333" stroke-width="1"/>
<line x1="311.72" y1="679.8" x2="311.72" y2="688.8" stroke="#333" stroke-width="1"/>
<line x1="318.61" y1="679.8" x2="318.61" y2="688.8" stroke="#333" stroke-width="1"/>
<line x1="325.5" y1="679.8" x2="325.5" y2="688.8" stroke="#333" stroke-width="1"/>
<line x1="332.38" y1="679.8" x2="332.38" y2="688.8" stroke="#333" stroke-width="1"/>
<line x1="339.28" y1="679.8" x2="339.28" y2="688.8" stroke="#333" stroke-width="1"/>
<line x1="346.17" y1="679.8" x2="346.17" y2="688.8" stroke="#333" stroke-width="1"/>
<line x1="353.06" y1="679.8" x2="353.06" y2="688.8" stroke="#333" stroke-width="1"/>
<line x1="359.94" y1="679.8" x2="359.94" y2="688.8" stroke="#333" stroke-width="1"/>
<line x1="366.84" y1="679.8" x2="366.84" y2="688.8" stroke="#333" stroke-width="1"/>
<line x1="373.73" y1="679.8" x2="373.73" y2="688.8" stroke="#333" stroke-width="1"/>
<line x1="380.62" y1="679.8" x2="380.62" y2="688.8" stroke="#333" stroke-width="1"/>
<line x1="387.5" y1="679.8" x2="387.5" y2="688.8" stroke="#333" stroke-width="1"/>
<line x1="394.4" y1="679.8" x2="394.4" y2="688.8" stroke="#333" stroke-width="1"/>
<line x1="401.29" y1="679.8" x2="401.29" y2="688.8" stroke="#333" stroke-width="1"/>
<line x1="408.18" y1="679.8" x2="408.18" y2="688.8" stroke="#333" stroke-width="1"/>
<line x1="415.06" y1="679.8" x2="415.06" y2="688.8" stroke="#333" stroke-width="1"/>
<line x1="421.95" y1="679.8" x2="421.95" y2="688.8" stroke="#333" stroke-width="1"/>
<line x1="428.85" y1="679.8" x2="428.85" y2="688.8" stroke="#333" stroke-width="1"/>
<line x1="435.74" y1="679.8" x2="435.74" y2="688.8" stroke="#333" stroke-width="1"/>
<line x1="442.62" y1="679.8" x2="442.62" y2="688.8" stroke="#333" stroke-width="1"/>
<line x1="448.44" y1="679.8" x2="448.44" y2="688.8" stroke="#333" stroke-width="1"/>
<rect x="272.8" y="679.8" width="5.4" height="9" stroke="#000" stroke-width="1" fill="none"/>
<line x1="280" y1="679.8" x2="280" y2="688.8" stroke="#777" stroke-width="1.6"/>
<rect x="283.3" y="679.3" width="2.6" height="10" rx="1" stroke="#000" stroke-width="1" fill="#fff"/>
<rect x="460.6" y="679.8" width="4.9" height="9" stroke="#000" stroke-width="1" fill="none"/>
<line x1="282.7" y1="584.1" x2="282.7" y2="699.1" stroke="#000" stroke-width="1.9"/>
<line x1="287.6" y1="584.1" x2="287.6" y2="699.1" stroke="#000" stroke-width="1.25"/>
<line x1="294.49" y1="584.1" x2="294.49" y2="699.1" stroke="#000" stroke-width="1.25"/>
<line x1="301.38" y1="584.1" x2="301.38" y2="699.1" stroke="#000" stroke-width="1.25"/>
<line x1="308.27" y1="584.1" x2="308.27" y2="699.1" stroke="#000" stroke-width="1.25"/>
<line x1="315.16" y1="584.1" x2="315.16" y2="699.1" stroke="#000" stroke-width="1.25"/>
<line x1="322.05" y1="584.1" x2="322.05" y2="699.1" stroke="#000" stroke-width="1.25"/>
<line x1="328.94" y1="584.1" x2="328.94" y2="699.1" stroke="#000" stroke-width="1.25"/>
<line x1="335.83" y1="584.1" x2="335.83" y2="699.1" stroke="#000" stroke-width="1.25"/>
<line x1="342.72" y1="584.1" x2="342.72" y2="699.1" stroke="#000" stroke-width="1.25"/>
<line x1="349.61" y1="584.1" x2="349.61" y2="699.1" stroke="#000" stroke-width="1.25"/>
<line x1="356.5" y1="584.1" x2="356.5" y2="699.1" stroke="#000" stroke-width="1.25"/>
<line x1="363.39" y1="584.1" x2="363.39" y2="699.1" stroke="#000" stroke-width="1.25"/>
<line x1="370.28" y1="584.1" x2="370.28" y2="699.1" stroke="#000" stroke-width="1.25"/>
<line x1="377.17" y1="584.1" x2="377.17" y2="699.1" stroke="#000" stroke-width="1.25"/>
<line x1="384.06" y1="584.1" x2="384.06" y2="699.1" stroke="#000" stroke-width="1.25"/>
<line x1="390.95" y1="584.1" x2="390.95" y2="699.1" stroke="#000" stroke-width="1.25"/>
<line x1="397.84" y1="584.1" x2="397.84" y2="699.1" stroke="#000" stroke-width="1.25"/>
<line x1="404.73" y1="584.1" x2="404.73" y2="699.1" stroke="#000" stroke-width="1.25"/>
<line x1="411.62" y1="584.1" x2="411.62" y2="699.1" stroke="#000" stroke-width="1.25"/>
<line x1="418.51" y1="584.1" x2="418.51" y2="699.1" stroke="#000" stroke-width="1.25"/>
<line x1="425.4" y1="584.1" x2="425.4" y2="699.1" stroke="#000" stroke-width="1.25"/>
<line x1="432.29" y1="584.1" x2="432.29" y2="699.1" stroke="#000" stroke-width="1.25"/>
<line x1="439.18" y1="584.1" x2="439.18" y2="699.1" stroke="#000" stroke-width="1.25"/>
<line x1="446.07" y1="584.1" x2="446.07" y2="699.1" stroke="#000" stroke-width="1.25"/>
<line x1="452.6" y1="584.1" x2="452.6" y2="699.1" stroke="#000" stroke-width="1.25"/>
<line x1="455.8" y1="584.1" x2="455.8" y2="699.1" stroke="#000" stroke-width="1.25"/>
<path d="M272.8,602.8 A9.85,9.85 0 0 0 272.8,622.5" stroke="#000" stroke-width="1.1" fill="none"/>
<path d="M272.8,593.5 C263.8,593.5 257.5,598.5 256,603.9 Q255,607.9 252.7,607.9 L248.4,607.9" stroke="#000" stroke-width="1.1" fill="none"/>
<path d="M272.8,631.4 C263.8,631.4 257.5,626.4 256,620.7 Q255,616.7 252.7,616.7 L248.4,616.7" stroke="#000" stroke-width="1.1" fill="none"/>
<rect x="237.2" y="605.9" width="11.2" height="12.8" stroke="#000" stroke-width="1.1" fill="#fff"/>
<rect x="233.3" y="604.8" width="3.9" height="15.2" stroke="#000" stroke-width="1.1" fill="#fff"/>
<rect x="229.2" y="603.6" width="4.1" height="17.6" stroke="#000" stroke-width="1.2" fill="#fff"/>
<line x1="231.2" y1="604.4" x2="231.2" y2="620.4" stroke="#666" stroke-width="0.8"/>
<circle cx="240.2" cy="612.4" r="4.3" stroke="#000" stroke-width="1.1" fill="none"/>
<line x1="224" y1="612.4" x2="254" y2="612.4" stroke="#666" stroke-width="1.3"/>
<path d="M272.8,660.2 A9.8,9.8 0 0 0 272.8,679.8" stroke="#000" stroke-width="1.1" fill="none"/>
<path d="M272.8,651.3 C263.8,651.3 257.5,656.3 256,661.6 Q255,665.6 252.7,665.6 L248.4,665.6" stroke="#000" stroke-width="1.1" fill="none"/>
<path d="M272.8,688.8 C263.8,688.8 257.5,683.8 256,678.4 Q255,674.4 252.7,674.4 L248.4,674.4" stroke="#000" stroke-width="1.1" fill="none"/>
<rect x="237.2" y="663.6" width="11.2" height="12.8" stroke="#000" stroke-width="1.1" fill="#fff"/>
<rect x="233.3" y="662.5" width="3.9" height="15.2" stroke="#000" stroke-width="1.1" fill="#fff"/>
<rect x="229.2" y="661.3" width="4.1" height="17.6" stroke="#000" stroke-width="1.2" fill="#fff"/>
<line x1="231.2" y1="662.1" x2="231.2" y2="678.1" stroke="#666" stroke-width="0.8"/>
<line x1="224" y1="670.1" x2="254" y2="670.1" stroke="#666" stroke-width="1.3"/>
<path d="M235.6,676.6 L235.6,675.7 C235.6,672.9 237.5,672.1 240.2,672.1 C243,672.1 244.8,672.9 244.8,675.7 L244.8,676.6" stroke="#000" stroke-width="1.2" fill="#fff"/>
<rect x="236.6" y="676.5" width="7.3" height="10" rx="1" stroke="#000" stroke-width="1.2" fill="#fff"/>
<line x1="239" y1="677.1" x2="239" y2="681.1" stroke="#444" stroke-width="0.9"/>
<line x1="241.5" y1="677.1" x2="241.5" y2="681.1" stroke="#444" stroke-width="0.9"/>
<rect x="236.6" y="682.1" width="7.3" height="4.4" rx="1.2" stroke="#000" stroke-width="0" fill="#111"/>
<line x1="237.8" y1="683" x2="242.7" y2="683" stroke="#ddd" stroke-width="0.8"/>
<path d="M465.5,602.8 A9.85,9.85 0 0 1 465.5,622.5" stroke="#000" stroke-width="1.1" fill="none"/>
<path d="M465.5,593.5 C474.5,593.5 480.5,598.5 482,603.9 Q483,607.9 485.4,607.9 L490.3,607.9" stroke="#000" stroke-width="1.1" fill="none"/>
<path d="M465.5,631.4 C474.5,631.4 480.5,626.4 482,620.7 Q483,616.7 485.4,616.7 L490.3,616.7" stroke="#000" stroke-width="1.1" fill="none"/>
<rect x="490.3" y="605.9" width="11.2" height="12.8" stroke="#000" stroke-width="1.1" fill="#fff"/>
<rect x="501.5" y="604.8" width="3.9" height="15.2" stroke="#000" stroke-width="1.1" fill="#fff"/>
<rect x="505.4" y="603.6" width="4.1" height="17.6" stroke="#000" stroke-width="1.2" fill="#fff"/>
<line x1="507.4" y1="604.4" x2="507.4" y2="620.4" stroke="#666" stroke-width="0.8"/>
<circle cx="497.8" cy="612.4" r="4.3" stroke="#000" stroke-width="1.1" fill="none"/>
<line x1="484" y1="612.4" x2="516" y2="612.4" stroke="#666" stroke-width="1.3"/>
<path d="M465.5,660.2 A9.8,9.8 0 0 1 465.5,679.8" stroke="#000" stroke-width="1.1" fill="none"/>
<path d="M465.5,651.3 C474.5,651.3 480.5,656.3 482,661.6 Q483,665.6 485.4,665.6 L490.3,665.6" stroke="#000" stroke-width="1.1" fill="none"/>
<path d="M465.5,688.8 C474.5,688.8 480.5,683.8 482,678.4 Q483,674.4 485.4,674.4 L490.3,674.4" stroke="#000" stroke-width="1.1" fill="none"/>
<rect x="490.3" y="663.6" width="11.2" height="12.8" stroke="#000" stroke-width="1.1" fill="#fff"/>
<rect x="501.5" y="662.5" width="3.9" height="15.2" stroke="#000" stroke-width="1.1" fill="#fff"/>
<rect x="505.4" y="661.3" width="4.1" height="17.6" stroke="#000" stroke-width="1.2" fill="#fff"/>
<line x1="507.4" y1="662.1" x2="507.4" y2="678.1" stroke="#666" stroke-width="0.8"/>
<circle cx="497.8" cy="670.1" r="4.3" stroke="#000" stroke-width="1.1" fill="none"/>
<line x1="484" y1="670.1" x2="516" y2="670.1" stroke="#666" stroke-width="1.3"/>
<line x1="228.8" y1="670.1" x2="228.8" y2="816.8" stroke="#000" stroke-width="0.9"/>
<line x1="173.3" y1="760.7" x2="173.3" y2="816.8" stroke="#000" stroke-width="0.9"/>
<line x1="173.3" y1="811.3" x2="312" y2="811.3" stroke="#000" stroke-width="0.9"/>
<path d="M187.7,809.4 L173.3,811.3 L187.7,813.2" stroke="#000" stroke-width="1.1" fill="none" stroke-linecap="round" stroke-linejoin="round"/>
<path d="M214.4,813.2 L228.8,811.3 L214.4,809.4" stroke="#000" stroke-width="1.1" fill="none" stroke-linecap="round" stroke-linejoin="round"/>
<line x1="508.5" y1="670.1" x2="508.5" y2="818" stroke="#000" stroke-width="0.9"/>
<line x1="519.5" y1="760.7" x2="519.5" y2="818" stroke="#000" stroke-width="0.9"/>
<line x1="442" y1="811.6" x2="540" y2="811.6" stroke="#000" stroke-width="0.9"/>
<path d="M494.1,813.5 L508.5,811.6 L494.1,809.7" stroke="#000" stroke-width="1.1" fill="none" stroke-linecap="round" stroke-linejoin="round"/>
<path d="M533.9,809.7 L519.5,811.6 L533.9,813.5" stroke="#000" stroke-width="1.1" fill="none" stroke-linecap="round" stroke-linejoin="round"/>
<rect x="777.9" y="188.6" width="239.5" height="10.7" stroke="#000" stroke-width="1.5" fill="none"/>
<line x1="779.1" y1="189.8" x2="1016.2" y2="189.8" stroke="#888" stroke-width="1"/>
<line x1="779.1" y1="197.9" x2="1016.2" y2="197.9" stroke="#888" stroke-width="1.2"/>
<line x1="779.7" y1="189.6" x2="779.7" y2="198.3" stroke="#777" stroke-width="0.9"/>
<line x1="1015.6" y1="189.6" x2="1015.6" y2="198.3" stroke="#777" stroke-width="0.9"/>
<circle cx="798" cy="193.8" r="2.4" stroke="#000" stroke-width="1" fill="none"/>
<circle cx="997.5" cy="193.8" r="2.4" stroke="#000" stroke-width="1" fill="none"/>
<rect x="789.1" y="201.6" width="114.7" height="28.7" stroke="#000" stroke-width="1.1" fill="#fff"/>
<circle cx="792.9" cy="225.9" r="1.8" stroke="#000" stroke-width="1" fill="none"/>
<circle cx="899.6" cy="205.5" r="1.8" stroke="#000" stroke-width="1" fill="none"/>
<circle cx="899.6" cy="225.9" r="1.8" stroke="#000" stroke-width="1" fill="none"/>
<rect x="798.1" y="210.9" width="38.8" height="9.8" rx="4.9" stroke="#000" stroke-width="1.3" fill="#fff"/>
<line x1="801.4" y1="215.8" x2="833.4" y2="215.8" stroke="#888" stroke-width="1.3"/>
<path d="M813.1,206.3 L821.7,206.3 L825.4,215.8 L821.7,223.8 L813.1,223.8 L809.4,215.8 Z" stroke="#000" stroke-width="1.4" fill="#fff"/>
<circle cx="817.4" cy="215.8" r="6.3" stroke="#000" stroke-width="1.3" fill="none"/>
<circle cx="817.4" cy="215.8" r="4.5" stroke="#000" stroke-width="1.1" fill="none"/>
<circle cx="817.4" cy="215.8" r="2.8" stroke="#555" stroke-width="0.9" fill="none"/>
<rect x="855.4" y="210.9" width="38.8" height="9.8" rx="4.9" stroke="#000" stroke-width="1.3" fill="#fff"/>
<line x1="858.7" y1="215.8" x2="890.7" y2="215.8" stroke="#888" stroke-width="1.3"/>
<path d="M870.4,206.3 L879,206.3 L882.7,215.8 L879,223.8 L870.4,223.8 L866.7,215.8 Z" stroke="#000" stroke-width="1.4" fill="#fff"/>
<circle cx="874.7" cy="215.8" r="6.3" stroke="#000" stroke-width="1.3" fill="none"/>
<circle cx="874.7" cy="215.8" r="4.5" stroke="#000" stroke-width="1.1" fill="none"/>
<circle cx="874.7" cy="215.8" r="2.8" stroke="#555" stroke-width="0.9" fill="none"/>
<path d="M903.8,220.8 L938,220.8 Q943,220.8 944,215.8 L945,210.3 Q945.5,208.3 948,208.3 L957,208.3 Q959.5,208.3 960,210.3 L961,215.8 Q962,220.8 967,220.8 L991,220.8 Q997,220.8 998,214.8 L999,205" stroke="#000" stroke-width="1.1" fill="none"/>
<line x1="786.6" y1="199.3" x2="786.6" y2="256" stroke="#000" stroke-width="2.4"/>
<line x1="785.2" y1="255" x2="785.2" y2="278.7" stroke="#000" stroke-width="1.6"/>
<line x1="1008.4" y1="199.3" x2="1008.4" y2="256" stroke="#000" stroke-width="2.4"/>
<line x1="1009.8" y1="255" x2="1009.8" y2="278.7" stroke="#000" stroke-width="1.6"/>
<line x1="785.2" y1="278.7" x2="765" y2="278.7" stroke="#000" stroke-width="1.5"/>
<line x1="1009.8" y1="278.7" x2="1030.8" y2="278.7" stroke="#000" stroke-width="1.5"/>
<line x1="779.6" y1="205.9" x2="798" y2="205.9" stroke="#333" stroke-width="3.6" stroke-linecap="round"/>
<line x1="780.6" y1="205.9" x2="797" y2="205.9" stroke="#aaa" stroke-width="1"/>
<line x1="997.4" y1="205.9" x2="1015.8" y2="205.9" stroke="#333" stroke-width="3.6" stroke-linecap="round"/>
<line x1="998.4" y1="205.9" x2="1014.8" y2="205.9" stroke="#aaa" stroke-width="1"/>
<rect x="787.3" y="202" width="3.1" height="7.3" stroke="#000" stroke-width="1" fill="#fff"/>
<rect x="1004.6" y="202" width="3.1" height="7.3" stroke="#000" stroke-width="1" fill="#fff"/>
<ellipse cx="786.3" cy="215.9" rx="1.6" ry="2.2" fill="#222"/>
<ellipse cx="1008.7" cy="215.9" rx="1.6" ry="2.2" fill="#222"/>
<line x1="786" y1="255.7" x2="1009" y2="255.7" stroke="#000" stroke-width="2.4"/>
<ellipse cx="808.7" cy="255.7" rx="2.1" ry="2.5" fill="#999" stroke="#000" stroke-width="1.4"/>
<ellipse cx="897.9" cy="255.7" rx="2.1" ry="2.5" fill="#999" stroke="#000" stroke-width="1.4"/>
<ellipse cx="986.5" cy="255.7" rx="2.1" ry="2.5" fill="#999" stroke="#000" stroke-width="1.4"/>
<rect x="792.65" y="255" width="5.1" height="17" stroke="#000" stroke-width="1.1" fill="#fff"/>
<path d="M790.85,255.2 L790.85,249 Q790.85,246.5 795.2,246.5 Q799.55,246.5 799.55,249 L799.55,255.2 Z" stroke="#000" stroke-width="1.1" fill="#fff"/>
<line x1="790.85" y1="249.5" x2="799.55" y2="249.5" stroke="#555" stroke-width="0.8"/>
<rect x="997.25" y="255" width="5.1" height="17" stroke="#000" stroke-width="1.1" fill="#fff"/>
<path d="M995.45,255.2 L995.45,249 Q995.45,246.5 999.8,246.5 Q1004.15,246.5 1004.15,249 L1004.15,255.2 Z" stroke="#000" stroke-width="1.1" fill="#fff"/>
<line x1="995.45" y1="249.5" x2="1004.15" y2="249.5" stroke="#555" stroke-width="0.8"/>
<rect x="781.7" y="246.5" width="6.6" height="8.2" stroke="#333" stroke-width="1" fill="none"/>
<rect x="1006.7" y="246.5" width="6.6" height="8.2" stroke="#333" stroke-width="1" fill="none"/>
<line x1="681.4" y1="188.3" x2="777.9" y2="188.3" stroke="#000" stroke-width="0.9"/>
<line x1="687.8" y1="188.3" x2="687.8" y2="279.5" stroke="#000" stroke-width="0.9"/>
<path d="M689.7,202.7 L687.8,188.3 L685.9,202.7" stroke="#000" stroke-width="1.1" fill="none" stroke-linecap="round" stroke-linejoin="round"/>
<path d="M685.9,265.1 L687.8,279.5 L689.7,265.1" stroke="#000" stroke-width="1.1" fill="none" stroke-linecap="round" stroke-linejoin="round"/>
<line x1="681.4" y1="279.5" x2="787" y2="279.5" stroke="#000" stroke-width="0.9"/>
<line x1="716.3" y1="188.3" x2="716.3" y2="256.8" stroke="#000" stroke-width="0.9"/>
<path d="M718.2,202.7 L716.3,188.3 L714.4,202.7" stroke="#000" stroke-width="1.1" fill="none" stroke-linecap="round" stroke-linejoin="round"/>
<path d="M714.4,242.4 L716.3,256.8 L718.2,242.4" stroke="#000" stroke-width="1.1" fill="none" stroke-linecap="round" stroke-linejoin="round"/>
<line x1="709.5" y1="256.8" x2="787" y2="256.8" stroke="#000" stroke-width="0.9"/>
<line x1="744.1" y1="140" x2="744.1" y2="235.8" stroke="#000" stroke-width="0.9"/>
<path d="M742.2,173.9 L744.1,188.3 L746,173.9" stroke="#000" stroke-width="1.1" fill="none" stroke-linecap="round" stroke-linejoin="round"/>
<path d="M746,230 L744.1,215.6 L742.2,230" stroke="#000" stroke-width="1.1" fill="none" stroke-linecap="round" stroke-linejoin="round"/>
<line x1="737.7" y1="215.6" x2="789" y2="215.6" stroke="#000" stroke-width="0.9"/>
<line x1="777.6" y1="161" x2="777.6" y2="188.3" stroke="#000" stroke-width="0.9"/>
<line x1="817.4" y1="161" x2="817.4" y2="229" stroke="#000" stroke-width="1"/>
<line x1="874.7" y1="161" x2="874.7" y2="229" stroke="#000" stroke-width="1"/>
<line x1="777.6" y1="166.9" x2="874.7" y2="166.9" stroke="#000" stroke-width="0.9"/>
<path d="M792,165 L777.6,166.9 L792,168.8" stroke="#000" stroke-width="1.1" fill="none" stroke-linecap="round" stroke-linejoin="round"/>
<path d="M803,168.8 L817.4,166.9 L803,165" stroke="#000" stroke-width="1.1" fill="none" stroke-linecap="round" stroke-linejoin="round"/>
<path d="M831.8,165 L817.4,166.9 L831.8,168.8" stroke="#000" stroke-width="1.1" fill="none" stroke-linecap="round" stroke-linejoin="round"/>
<path d="M860.3,168.8 L874.7,166.9 L860.3,165" stroke="#000" stroke-width="1.1" fill="none" stroke-linecap="round" stroke-linejoin="round"/>
<rect x="777.9" y="416.3" width="239.5" height="10.7" stroke="#000" stroke-width="1.5" fill="none"/>
<line x1="779.1" y1="417.5" x2="1016.2" y2="417.5" stroke="#888" stroke-width="1"/>
<line x1="779.1" y1="425.6" x2="1016.2" y2="425.6" stroke="#888" stroke-width="1.2"/>
<line x1="779.7" y1="417.3" x2="779.7" y2="426" stroke="#777" stroke-width="0.9"/>
<line x1="1015.6" y1="417.3" x2="1015.6" y2="426" stroke="#777" stroke-width="0.9"/>
<circle cx="798" cy="421.5" r="2.4" stroke="#000" stroke-width="1" fill="none"/>
<circle cx="997.5" cy="421.5" r="2.4" stroke="#000" stroke-width="1" fill="none"/>
<rect x="840.5" y="429.3" width="114.7" height="28.7" stroke="#000" stroke-width="1.1" fill="#fff"/>
<circle cx="844.3" cy="433.2" r="1.8" stroke="#000" stroke-width="1" fill="none"/>
<circle cx="844.3" cy="453.6" r="1.8" stroke="#000" stroke-width="1" fill="none"/>
<circle cx="951" cy="433.2" r="1.8" stroke="#000" stroke-width="1" fill="none"/>
<circle cx="951" cy="453.6" r="1.8" stroke="#000" stroke-width="1" fill="none"/>
<rect x="849.5" y="438.6" width="38.8" height="9.8" rx="4.9" stroke="#000" stroke-width="1.3" fill="#fff"/>
<line x1="852.8" y1="443.5" x2="884.8" y2="443.5" stroke="#888" stroke-width="1.3"/>
<path d="M864.5,434 L873.1,434 L876.8,443.5 L873.1,451.5 L864.5,451.5 L860.8,443.5 Z" stroke="#000" stroke-width="1.4" fill="#fff"/>
<circle cx="868.8" cy="443.5" r="6.3" stroke="#000" stroke-width="1.3" fill="none"/>
<circle cx="868.8" cy="443.5" r="4.5" stroke="#000" stroke-width="1.1" fill="none"/>
<circle cx="868.8" cy="443.5" r="2.8" stroke="#555" stroke-width="0.9" fill="none"/>
<rect x="906.8" y="438.6" width="38.8" height="9.8" rx="4.9" stroke="#000" stroke-width="1.3" fill="#fff"/>
<line x1="910.1" y1="443.5" x2="942.1" y2="443.5" stroke="#888" stroke-width="1.3"/>
<path d="M921.8,434 L930.4,434 L934.1,443.5 L930.4,451.5 L921.8,451.5 L918.1,443.5 Z" stroke="#000" stroke-width="1.4" fill="#fff"/>
<circle cx="926.1" cy="443.5" r="6.3" stroke="#000" stroke-width="1.3" fill="none"/>
<circle cx="926.1" cy="443.5" r="4.5" stroke="#000" stroke-width="1.1" fill="none"/>
<circle cx="926.1" cy="443.5" r="2.8" stroke="#555" stroke-width="0.9" fill="none"/>
<path d="M796.5,432.7 L797.5,442.5 Q798.5,448.5 803,448.5 L830,448.5 Q836,448.5 837,442.5 L838.5,435.2" stroke="#000" stroke-width="1.1" fill="none"/>
<path d="M957.5,435.2 L959,442.5 Q960,448.5 966,448.5 L991,448.5 Q997,448.5 998,442.5 L999,432.7" stroke="#000" stroke-width="1.1" fill="none"/>
<line x1="786.6" y1="427" x2="786.6" y2="483.7" stroke="#000" stroke-width="2.4"/>
<line x1="785.2" y1="482.7" x2="785.2" y2="506.4" stroke="#000" stroke-width="1.6"/>
<line x1="1008.4" y1="427" x2="1008.4" y2="483.7" stroke="#000" stroke-width="2.4"/>
<line x1="1009.8" y1="482.7" x2="1009.8" y2="506.4" stroke="#000" stroke-width="1.6"/>
<line x1="785.2" y1="506.4" x2="765" y2="506.4" stroke="#000" stroke-width="1.5"/>
<line x1="1009.8" y1="506.4" x2="1030.8" y2="506.4" stroke="#000" stroke-width="1.5"/>
<line x1="779.6" y1="433.6" x2="798" y2="433.6" stroke="#333" stroke-width="3.6" stroke-linecap="round"/>
<line x1="780.6" y1="433.6" x2="797" y2="433.6" stroke="#aaa" stroke-width="1"/>
<line x1="997.4" y1="433.6" x2="1015.8" y2="433.6" stroke="#333" stroke-width="3.6" stroke-linecap="round"/>
<line x1="998.4" y1="433.6" x2="1014.8" y2="433.6" stroke="#aaa" stroke-width="1"/>
<rect x="787.3" y="429.7" width="3.1" height="7.3" stroke="#000" stroke-width="1" fill="#fff"/>
<rect x="1004.6" y="429.7" width="3.1" height="7.3" stroke="#000" stroke-width="1" fill="#fff"/>
<ellipse cx="786.3" cy="443.6" rx="1.6" ry="2.2" fill="#222"/>
<ellipse cx="1008.7" cy="443.6" rx="1.6" ry="2.2" fill="#222"/>
<line x1="786" y1="483.4" x2="1009" y2="483.4" stroke="#000" stroke-width="2.4"/>
<ellipse cx="808.7" cy="483.4" rx="2.1" ry="2.5" fill="#999" stroke="#000" stroke-width="1.4"/>
<ellipse cx="897.9" cy="483.4" rx="2.1" ry="2.5" fill="#999" stroke="#000" stroke-width="1.4"/>
<ellipse cx="986.5" cy="483.4" rx="2.1" ry="2.5" fill="#999" stroke="#000" stroke-width="1.4"/>
<rect x="792.65" y="482.7" width="5.1" height="17" stroke="#000" stroke-width="1.1" fill="#fff"/>
<path d="M790.85,482.9 L790.85,476.7 Q790.85,474.2 795.2,474.2 Q799.55,474.2 799.55,476.7 L799.55,482.9 Z" stroke="#000" stroke-width="1.1" fill="#fff"/>
<line x1="790.85" y1="477.2" x2="799.55" y2="477.2" stroke="#555" stroke-width="0.8"/>
<rect x="997.25" y="482.7" width="5.1" height="17" stroke="#000" stroke-width="1.1" fill="#fff"/>
<path d="M995.45,482.9 L995.45,476.7 Q995.45,474.2 999.8,474.2 Q1004.15,474.2 1004.15,476.7 L1004.15,482.9 Z" stroke="#000" stroke-width="1.1" fill="#fff"/>
<line x1="995.45" y1="477.2" x2="1004.15" y2="477.2" stroke="#555" stroke-width="0.8"/>
<rect x="781.7" y="474.2" width="6.6" height="8.2" stroke="#333" stroke-width="1" fill="none"/>
<rect x="1006.7" y="474.2" width="6.6" height="8.2" stroke="#333" stroke-width="1" fill="none"/>
<line x1="840.5" y1="397" x2="840.5" y2="458.3" stroke="#000" stroke-width="0.9"/>
<line x1="955.2" y1="397" x2="955.2" y2="458.3" stroke="#000" stroke-width="0.9"/>
<line x1="840.5" y1="403.2" x2="955.2" y2="403.2" stroke="#000" stroke-width="0.9"/>
<path d="M854.9,401.3 L840.5,403.2 L854.9,405.1" stroke="#000" stroke-width="1.1" fill="none" stroke-linecap="round" stroke-linejoin="round"/>
<path d="M940.8,405.1 L955.2,403.2 L940.8,401.3" stroke="#000" stroke-width="1.1" fill="none" stroke-linecap="round" stroke-linejoin="round"/>
<line x1="744" y1="409.3" x2="744" y2="506.6" stroke="#000" stroke-width="0.9"/>
<path d="M742.1,415 L744,429.4 L745.9,415" stroke="#000" stroke-width="1.1" fill="none" stroke-linecap="round" stroke-linejoin="round"/>
<path d="M745.9,472.5 L744,458.1 L742.1,472.5" stroke="#000" stroke-width="1.1" fill="none" stroke-linecap="round" stroke-linejoin="round"/>
<line x1="737.5" y1="429.4" x2="790" y2="429.4" stroke="#000" stroke-width="1"/>
<line x1="737.5" y1="458.1" x2="840.5" y2="458.1" stroke="#000" stroke-width="0.9"/>
<line x1="777.5" y1="428" x2="777.5" y2="541.6" stroke="#000" stroke-width="0.9"/>
<line x1="868.9" y1="432" x2="868.9" y2="541.6" stroke="#000" stroke-width="1"/>
<line x1="926.2" y1="432" x2="926.2" y2="541.6" stroke="#000" stroke-width="1"/>
<line x1="777.5" y1="535.8" x2="926.2" y2="535.8" stroke="#000" stroke-width="0.9"/>
<path d="M791.9,533.9 L777.5,535.8 L791.9,537.7" stroke="#000" stroke-width="1.1" fill="none" stroke-linecap="round" stroke-linejoin="round"/>
<path d="M854.5,537.7 L868.9,535.8 L854.5,533.9" stroke="#000" stroke-width="1.1" fill="none" stroke-linecap="round" stroke-linejoin="round"/>
<path d="M883.3,533.9 L868.9,535.8 L883.3,537.7" stroke="#000" stroke-width="1.1" fill="none" stroke-linecap="round" stroke-linejoin="round"/>
<path d="M911.8,537.7 L926.2,535.8 L911.8,533.9" stroke="#000" stroke-width="1.1" fill="none" stroke-linecap="round" stroke-linejoin="round"/>
<rect x="777.9" y="641.8" width="239.5" height="10.7" stroke="#000" stroke-width="1.5" fill="none"/>
<line x1="779.1" y1="643" x2="1016.2" y2="643" stroke="#888" stroke-width="1"/>
<line x1="779.1" y1="651.1" x2="1016.2" y2="651.1" stroke="#888" stroke-width="1.2"/>
<line x1="779.7" y1="642.8" x2="779.7" y2="651.5" stroke="#777" stroke-width="0.9"/>
<line x1="1015.6" y1="642.8" x2="1015.6" y2="651.5" stroke="#777" stroke-width="0.9"/>
<circle cx="798" cy="647" r="2.4" stroke="#000" stroke-width="1" fill="none"/>
<circle cx="997.5" cy="647" r="2.4" stroke="#000" stroke-width="1" fill="none"/>
<rect x="891.7" y="654.8" width="114.7" height="28.7" stroke="#000" stroke-width="1.1" fill="#fff"/>
<circle cx="895.5" cy="658.7" r="1.8" stroke="#000" stroke-width="1" fill="none"/>
<circle cx="895.5" cy="679.1" r="1.8" stroke="#000" stroke-width="1" fill="none"/>
<circle cx="1002.2" cy="679.1" r="1.8" stroke="#000" stroke-width="1" fill="none"/>
<rect x="900.7" y="664.1" width="38.8" height="9.8" rx="4.9" stroke="#000" stroke-width="1.3" fill="#fff"/>
<line x1="904" y1="669" x2="936" y2="669" stroke="#888" stroke-width="1.3"/>
<path d="M915.7,659.5 L924.3,659.5 L928,669 L924.3,677 L915.7,677 L912,669 Z" stroke="#000" stroke-width="1.4" fill="#fff"/>
<circle cx="920" cy="669" r="6.3" stroke="#000" stroke-width="1.3" fill="none"/>
<circle cx="920" cy="669" r="4.5" stroke="#000" stroke-width="1.1" fill="none"/>
<circle cx="920" cy="669" r="2.8" stroke="#555" stroke-width="0.9" fill="none"/>
<rect x="958" y="664.1" width="38.8" height="9.8" rx="4.9" stroke="#000" stroke-width="1.3" fill="#fff"/>
<line x1="961.3" y1="669" x2="993.3" y2="669" stroke="#888" stroke-width="1.3"/>
<path d="M973,659.5 L981.6,659.5 L985.3,669 L981.6,677 L973,677 L969.3,669 Z" stroke="#000" stroke-width="1.4" fill="#fff"/>
<circle cx="977.3" cy="669" r="6.3" stroke="#000" stroke-width="1.3" fill="none"/>
<circle cx="977.3" cy="669" r="4.5" stroke="#000" stroke-width="1.1" fill="none"/>
<circle cx="977.3" cy="669" r="2.8" stroke="#555" stroke-width="0.9" fill="none"/>
<path d="M796.5,658.2 L797.5,668 Q798.5,674 803,674 L830,674 Q835,674 836,669 L837,664.4 Q837.5,662.4 840,662.4 L846,662.4 Q848.5,662.4 849,664.4 L850,669 Q851,674 856,674 L891.7,674" stroke="#000" stroke-width="1.1" fill="none"/>
<line x1="786.6" y1="652.5" x2="786.6" y2="709.2" stroke="#000" stroke-width="2.4"/>
<line x1="785.2" y1="708.2" x2="785.2" y2="731.9" stroke="#000" stroke-width="1.6"/>
<line x1="1008.4" y1="652.5" x2="1008.4" y2="709.2" stroke="#000" stroke-width="2.4"/>
<line x1="1009.8" y1="708.2" x2="1009.8" y2="731.9" stroke="#000" stroke-width="1.6"/>
<line x1="785.2" y1="731.9" x2="765" y2="731.9" stroke="#000" stroke-width="1.5"/>
<line x1="1009.8" y1="731.9" x2="1030.8" y2="731.9" stroke="#000" stroke-width="1.5"/>
<line x1="779.6" y1="659.1" x2="798" y2="659.1" stroke="#333" stroke-width="3.6" stroke-linecap="round"/>
<line x1="780.6" y1="659.1" x2="797" y2="659.1" stroke="#aaa" stroke-width="1"/>
<line x1="997.4" y1="659.1" x2="1015.8" y2="659.1" stroke="#333" stroke-width="3.6" stroke-linecap="round"/>
<line x1="998.4" y1="659.1" x2="1014.8" y2="659.1" stroke="#aaa" stroke-width="1"/>
<rect x="787.3" y="655.2" width="3.1" height="7.3" stroke="#000" stroke-width="1" fill="#fff"/>
<rect x="1004.6" y="655.2" width="3.1" height="7.3" stroke="#000" stroke-width="1" fill="#fff"/>
<ellipse cx="786.3" cy="669.1" rx="1.6" ry="2.2" fill="#222"/>
<ellipse cx="1008.7" cy="669.1" rx="1.6" ry="2.2" fill="#222"/>
<line x1="786" y1="708.9" x2="1009" y2="708.9" stroke="#000" stroke-width="2.4"/>
<ellipse cx="808.7" cy="708.9" rx="2.1" ry="2.5" fill="#999" stroke="#000" stroke-width="1.4"/>
<ellipse cx="897.9" cy="708.9" rx="2.1" ry="2.5" fill="#999" stroke="#000" stroke-width="1.4"/>
<ellipse cx="986.5" cy="708.9" rx="2.1" ry="2.5" fill="#999" stroke="#000" stroke-width="1.4"/>
<rect x="792.65" y="708.2" width="5.1" height="17" stroke="#000" stroke-width="1.1" fill="#fff"/>
<path d="M790.85,708.4 L790.85,702.2 Q790.85,699.7 795.2,699.7 Q799.55,699.7 799.55,702.2 L799.55,708.4 Z" stroke="#000" stroke-width="1.1" fill="#fff"/>
<line x1="790.85" y1="702.7" x2="799.55" y2="702.7" stroke="#555" stroke-width="0.8"/>
<rect x="997.25" y="708.2" width="5.1" height="17" stroke="#000" stroke-width="1.1" fill="#fff"/>
<path d="M995.45,708.4 L995.45,702.2 Q995.45,699.7 999.8,699.7 Q1004.15,699.7 1004.15,702.2 L1004.15,708.4 Z" stroke="#000" stroke-width="1.1" fill="#fff"/>
<line x1="995.45" y1="702.7" x2="1004.15" y2="702.7" stroke="#555" stroke-width="0.8"/>
<rect x="781.7" y="699.7" width="6.6" height="8.2" stroke="#333" stroke-width="1" fill="none"/>
<rect x="1006.7" y="699.7" width="6.6" height="8.2" stroke="#333" stroke-width="1" fill="none"/>
<line x1="777.9" y1="603" x2="777.9" y2="642" stroke="#000" stroke-width="0.9"/>
<line x1="920.4" y1="603" x2="920.4" y2="684" stroke="#000" stroke-width="1"/>
<line x1="977.9" y1="603" x2="977.9" y2="684" stroke="#000" stroke-width="1"/>
<line x1="777.9" y1="609.6" x2="977.9" y2="609.6" stroke="#000" stroke-width="0.9"/>
<path d="M792.3,607.7 L777.9,609.6 L792.3,611.5" stroke="#000" stroke-width="1.1" fill="none" stroke-linecap="round" stroke-linejoin="round"/>
<path d="M906,611.5 L920.4,609.6 L906,607.7" stroke="#000" stroke-width="1.1" fill="none" stroke-linecap="round" stroke-linejoin="round"/>
<path d="M934.8,607.7 L920.4,609.6 L934.8,611.5" stroke="#000" stroke-width="1.1" fill="none" stroke-linecap="round" stroke-linejoin="round"/>
<path d="M963.5,611.5 L977.9,609.6 L963.5,607.7" stroke="#000" stroke-width="1.1" fill="none" stroke-linecap="round" stroke-linejoin="round"/>
<line x1="765.3" y1="732.4" x2="765.3" y2="770.4" stroke="#000" stroke-width="0.9"/>
<line x1="786.2" y1="732.4" x2="786.2" y2="770.4" stroke="#000" stroke-width="0.9"/>
<line x1="1009.7" y1="732.4" x2="1009.7" y2="770.4" stroke="#000" stroke-width="0.9"/>
<line x1="717.3" y1="764.9" x2="1009.7" y2="764.9" stroke="#000" stroke-width="0.9"/>
<path d="M750.9,766.8 L765.3,764.9 L750.9,763" stroke="#000" stroke-width="1.1" fill="none" stroke-linecap="round" stroke-linejoin="round"/>
<path d="M800.6,763 L786.2,764.9 L800.6,766.8" stroke="#000" stroke-width="1.1" fill="none" stroke-linecap="round" stroke-linejoin="round"/>
<path d="M995.3,766.8 L1009.7,764.9 L995.3,763" stroke="#000" stroke-width="1.1" fill="none" stroke-linecap="round" stroke-linejoin="round"/>
<line x1="765.3" y1="732.4" x2="765.3" y2="770.4" stroke="#000" stroke-width="0.9"/>
<line x1="765.3" y1="732.4" x2="785.7" y2="732.4" stroke="#000" stroke-width="1.5"/>
<g transform="translate(295.50,37.40) skewX(-17) scale(1.4200)" fill="none" stroke="#000" stroke-width="1.05" stroke-linecap="round" stroke-linejoin="round"><path vector-effect="non-scaling-stroke" transform="translate(0.00,0)" d="M0,0 L0,-10 M4.9,-10 L0,-4.3 M1.6,-6 L4.6,0"/><path vector-effect="non-scaling-stroke" transform="translate(6.50,0)" d="M0,-10 L2.5,0 L5.2,-10"/><path vector-effect="non-scaling-stroke" transform="translate(13.30,0)" d="M0.4,-10 L5,-10 L0,0 L5,0"/><path vector-effect="non-scaling-stroke" transform="translate(24.10,0)" d="M3.7,-10 L0,-2.8 L4.8,-2.8 M3.7,-10 L3.7,0"/><path vector-effect="non-scaling-stroke" transform="translate(30.50,0)" d="M0.1,-8.3 C0.5,-9.4 1.3,-10 2.4,-10 C3.7,-10 4.6,-9.2 4.6,-7.8 C4.6,-6.9 4.2,-6.1 3.5,-5.3 L0,0 L4.6,0"/><path vector-effect="non-scaling-stroke" transform="translate(36.70,0)" d="M0,-2.6 L0,-7.4 C0,-9.1 1,-10 2.3,-10 C3.6,-10 4.6,-9.1 4.6,-7.4 L4.6,-2.6 C4.6,-0.9 3.6,0 2.3,0 C1,0 0,-0.9 0,-2.6 Z"/><path vector-effect="non-scaling-stroke" transform="translate(42.91,0)" d="M0,-3.7 L4.4,-3.7"/><path vector-effect="non-scaling-stroke" transform="translate(48.91,0)" d="M0.9,-8.1 C1.9,-8.6 2.8,-9.3 3.4,-10 L3.4,0"/><path vector-effect="non-scaling-stroke" transform="translate(53.91,0)" d="M0.1,-8.3 C0.5,-9.4 1.3,-10 2.4,-10 C3.7,-10 4.6,-9.2 4.6,-7.8 C4.6,-6.9 4.2,-6.1 3.5,-5.3 L0,0 L4.6,0"/><path vector-effect="non-scaling-stroke" transform="translate(60.11,0)" d="M0,-2.6 L0,-7.4 C0,-9.1 1,-10 2.3,-10 C3.6,-10 4.6,-9.1 4.6,-7.4 L4.6,-2.6 C4.6,-0.9 3.6,0 2.3,0 C1,0 0,-0.9 0,-2.6 Z"/><path vector-effect="non-scaling-stroke" transform="translate(66.31,0)" d="M0,-3.7 L4.4,-3.7"/><path vector-effect="non-scaling-stroke" transform="translate(72.31,0)" d="M0,-10 L0,0 L3.8,0"/><path vector-effect="non-scaling-stroke" transform="translate(77.71,0)" d="M0,-0.45 L0.6,-0.45"/><path vector-effect="non-scaling-stroke" transform="translate(79.91,0)" d="M0,-2.6 L0,-7.4 C0,-9.1 1,-10 2.3,-10 C3.6,-10 4.6,-9.1 4.6,-7.4 L4.6,-2.6 C4.6,-0.9 3.6,0 2.3,0 C1,0 0,-0.9 0,-2.6 Z"/><path vector-effect="non-scaling-stroke" transform="translate(86.11,0)" d="M0,-2.6 L0,-7.4 C0,-9.1 1,-10 2.3,-10 C3.6,-10 4.6,-9.1 4.6,-7.4 L4.6,-2.6 C4.6,-0.9 3.6,0 2.3,0 C1,0 0,-0.9 0,-2.6 Z"/><path vector-effect="non-scaling-stroke" transform="translate(92.31,0)" d="M0,-0.45 L0.6,-0.45"/><path vector-effect="non-scaling-stroke" transform="translate(94.51,0)" d="M0,-2.6 L0,-7.4 C0,-9.1 1,-10 2.3,-10 C3.6,-10 4.6,-9.1 4.6,-7.4 L4.6,-2.6 C4.6,-0.9 3.6,0 2.3,0 C1,0 0,-0.9 0,-2.6 Z"/><path vector-effect="non-scaling-stroke" transform="translate(100.71,0)" d="M0,-2.6 L0,-7.4 C0,-9.1 1,-10 2.3,-10 C3.6,-10 4.6,-9.1 4.6,-7.4 L4.6,-2.6 C4.6,-0.9 3.6,0 2.3,0 C1,0 0,-0.9 0,-2.6 Z"/><path vector-effect="non-scaling-stroke" transform="translate(106.91,0)" d="M0,-2.6 L0,-7.4 C0,-9.1 1,-10 2.3,-10 C3.6,-10 4.6,-9.1 4.6,-7.4 L4.6,-2.6 C4.6,-0.9 3.6,0 2.3,0 C1,0 0,-0.9 0,-2.6 Z"/></g>
<g transform="translate(341.00,64.00) skewX(-17) scale(1.3000)" fill="none" stroke="#000" stroke-width="1.05" stroke-linecap="round" stroke-linejoin="round"><path vector-effect="non-scaling-stroke" transform="translate(0.00,0)" d="M0,-10 L0,0 L3.8,0"/></g>
<g transform="translate(248.58,395.40) skewX(-17) scale(1.3100)" fill="none" stroke="#000" stroke-width="1.05" stroke-linecap="round" stroke-linejoin="round"><path vector-effect="non-scaling-stroke" transform="translate(0.00,0)" d="M0.9,-8.1 C1.9,-8.6 2.8,-9.3 3.4,-10 L3.4,0"/><path vector-effect="non-scaling-stroke" transform="translate(5.21,0)" d="M0,-2.6 L0,-7.4 C0,-9.1 1,-10 2.3,-10 C3.6,-10 4.6,-9.1 4.6,-7.4 L4.6,-2.6 C4.6,-0.9 3.6,0 2.3,0 C1,0 0,-0.9 0,-2.6 Z"/><path vector-effect="non-scaling-stroke" transform="translate(11.62,0)" d="M0,-2.6 L0,-7.4 C0,-9.1 1,-10 2.3,-10 C3.6,-10 4.6,-9.1 4.6,-7.4 L4.6,-2.6 C4.6,-0.9 3.6,0 2.3,0 C1,0 0,-0.9 0,-2.6 Z"/><path vector-effect="non-scaling-stroke" transform="translate(18.03,0)" d="M0,-0.45 L0.6,-0.45"/><path vector-effect="non-scaling-stroke" transform="translate(20.44,0)" d="M0,-0.45 L0.6,-0.45"/><path vector-effect="non-scaling-stroke" transform="translate(22.86,0)" d="M0,-0.45 L0.6,-0.45"/><path vector-effect="non-scaling-stroke" transform="translate(25.27,0)" d="M0.9,-8.1 C1.9,-8.6 2.8,-9.3 3.4,-10 L3.4,0"/><path vector-effect="non-scaling-stroke" transform="translate(30.48,0)" d="M0.9,-8.1 C1.9,-8.6 2.8,-9.3 3.4,-10 L3.4,0"/><path vector-effect="non-scaling-stroke" transform="translate(35.69,0)" d="M0,-2.6 L0,-7.4 C0,-9.1 1,-10 2.3,-10 C3.6,-10 4.6,-9.1 4.6,-7.4 L4.6,-2.6 C4.6,-0.9 3.6,0 2.3,0 C1,0 0,-0.9 0,-2.6 Z"/></g>
<g transform="translate(295.80,446.60) skewX(-17) scale(1.3800)" fill="none" stroke="#000" stroke-width="1.05" stroke-linecap="round" stroke-linejoin="round"><path vector-effect="non-scaling-stroke" transform="translate(0.00,0)" d="M0,0 L0,-10 M4.9,-10 L0,-4.3 M1.6,-6 L4.6,0"/><path vector-effect="non-scaling-stroke" transform="translate(6.68,0)" d="M0,-10 L2.5,0 L5.2,-10"/><path vector-effect="non-scaling-stroke" transform="translate(13.66,0)" d="M0,0 L0,-10 L2.9,-10 C4.2,-10 4.8,-9.1 4.8,-7.6 C4.8,-6.1 4.2,-5.2 2.9,-5.2 L0,-5.2"/><path vector-effect="non-scaling-stroke" transform="translate(24.63,0)" d="M3.7,-10 L0,-2.8 L4.8,-2.8 M3.7,-10 L3.7,0"/><path vector-effect="non-scaling-stroke" transform="translate(31.21,0)" d="M0.1,-8.3 C0.5,-9.4 1.3,-10 2.4,-10 C3.7,-10 4.6,-9.2 4.6,-7.8 C4.6,-6.9 4.2,-6.1 3.5,-5.3 L0,0 L4.6,0"/><path vector-effect="non-scaling-stroke" transform="translate(37.59,0)" d="M0,-2.6 L0,-7.4 C0,-9.1 1,-10 2.3,-10 C3.6,-10 4.6,-9.1 4.6,-7.4 L4.6,-2.6 C4.6,-0.9 3.6,0 2.3,0 C1,0 0,-0.9 0,-2.6 Z"/><path vector-effect="non-scaling-stroke" transform="translate(43.97,0)" d="M0,-3.7 L4.4,-3.7"/><path vector-effect="non-scaling-stroke" transform="translate(50.15,0)" d="M0.9,-8.1 C1.9,-8.6 2.8,-9.3 3.4,-10 L3.4,0"/><path vector-effect="non-scaling-stroke" transform="translate(55.34,0)" d="M0.1,-8.3 C0.5,-9.4 1.3,-10 2.4,-10 C3.7,-10 4.6,-9.2 4.6,-7.8 C4.6,-6.9 4.2,-6.1 3.5,-5.3 L0,0 L4.6,0"/><path vector-effect="non-scaling-stroke" transform="translate(61.72,0)" d="M0,-2.6 L0,-7.4 C0,-9.1 1,-10 2.3,-10 C3.6,-10 4.6,-9.1 4.6,-7.4 L4.6,-2.6 C4.6,-0.9 3.6,0 2.3,0 C1,0 0,-0.9 0,-2.6 Z"/><path vector-effect="non-scaling-stroke" transform="translate(68.10,0)" d="M0,-3.7 L4.4,-3.7"/><path vector-effect="non-scaling-stroke" transform="translate(74.28,0)" d="M0,-10 L0,0 L3.8,0"/><path vector-effect="non-scaling-stroke" transform="translate(79.86,0)" d="M0,-0.45 L0.6,-0.45"/><path vector-effect="non-scaling-stroke" transform="translate(82.25,0)" d="M0,-2.6 L0,-7.4 C0,-9.1 1,-10 2.3,-10 C3.6,-10 4.6,-9.1 4.6,-7.4 L4.6,-2.6 C4.6,-0.9 3.6,0 2.3,0 C1,0 0,-0.9 0,-2.6 Z"/><path vector-effect="non-scaling-stroke" transform="translate(88.63,0)" d="M0,-2.6 L0,-7.4 C0,-9.1 1,-10 2.3,-10 C3.6,-10 4.6,-9.1 4.6,-7.4 L4.6,-2.6 C4.6,-0.9 3.6,0 2.3,0 C1,0 0,-0.9 0,-2.6 Z"/><path vector-effect="non-scaling-stroke" transform="translate(95.01,0)" d="M0,-0.45 L0.6,-0.45"/><path vector-effect="non-scaling-stroke" transform="translate(97.39,0)" d="M0,-2.6 L0,-7.4 C0,-9.1 1,-10 2.3,-10 C3.6,-10 4.6,-9.1 4.6,-7.4 L4.6,-2.6 C4.6,-0.9 3.6,0 2.3,0 C1,0 0,-0.9 0,-2.6 Z"/><path vector-effect="non-scaling-stroke" transform="translate(103.77,0)" d="M0,-2.6 L0,-7.4 C0,-9.1 1,-10 2.3,-10 C3.6,-10 4.6,-9.1 4.6,-7.4 L4.6,-2.6 C4.6,-0.9 3.6,0 2.3,0 C1,0 0,-0.9 0,-2.6 Z"/><path vector-effect="non-scaling-stroke" transform="translate(110.15,0)" d="M0,-2.6 L0,-7.4 C0,-9.1 1,-10 2.3,-10 C3.6,-10 4.6,-9.1 4.6,-7.4 L4.6,-2.6 C4.6,-0.9 3.6,0 2.3,0 C1,0 0,-0.9 0,-2.6 Z"/></g>
<g transform="translate(341.50,472.50) skewX(-17) scale(1.3000)" fill="none" stroke="#000" stroke-width="1.05" stroke-linecap="round" stroke-linejoin="round"><path vector-effect="non-scaling-stroke" transform="translate(0.00,0)" d="M0,-10 L0,0 L3.8,0"/></g>
<g transform="translate(247.84,805.00) skewX(-17) scale(1.3800)" fill="none" stroke="#000" stroke-width="1.05" stroke-linecap="round" stroke-linejoin="round"><path vector-effect="non-scaling-stroke" transform="translate(0.00,0)" d="M0.9,-8.1 C1.9,-8.6 2.8,-9.3 3.4,-10 L3.4,0"/><path vector-effect="non-scaling-stroke" transform="translate(5.04,0)" d="M0,-2.6 L0,-7.4 C0,-9.1 1,-10 2.3,-10 C3.6,-10 4.6,-9.1 4.6,-7.4 L4.6,-2.6 C4.6,-0.9 3.6,0 2.3,0 C1,0 0,-0.9 0,-2.6 Z"/><path vector-effect="non-scaling-stroke" transform="translate(11.28,0)" d="M0,-2.6 L0,-7.4 C0,-9.1 1,-10 2.3,-10 C3.6,-10 4.6,-9.1 4.6,-7.4 L4.6,-2.6 C4.6,-0.9 3.6,0 2.3,0 C1,0 0,-0.9 0,-2.6 Z"/><path vector-effect="non-scaling-stroke" transform="translate(17.52,0)" d="M0,-0.45 L0.6,-0.45"/><path vector-effect="non-scaling-stroke" transform="translate(19.76,0)" d="M0,-0.45 L0.6,-0.45"/><path vector-effect="non-scaling-stroke" transform="translate(22.00,0)" d="M0,-0.45 L0.6,-0.45"/><path vector-effect="non-scaling-stroke" transform="translate(24.25,0)" d="M0.9,-8.1 C1.9,-8.6 2.8,-9.3 3.4,-10 L3.4,0"/><path vector-effect="non-scaling-stroke" transform="translate(29.29,0)" d="M0.9,-8.1 C1.9,-8.6 2.8,-9.3 3.4,-10 L3.4,0"/><path vector-effect="non-scaling-stroke" transform="translate(34.33,0)" d="M0,-2.6 L0,-7.4 C0,-9.1 1,-10 2.3,-10 C3.6,-10 4.6,-9.1 4.6,-7.4 L4.6,-2.6 C4.6,-0.9 3.6,0 2.3,0 C1,0 0,-0.9 0,-2.6 Z"/></g>
<g transform="translate(449.00,805.00) skewX(-17) scale(1.4400)" fill="none" stroke="#000" stroke-width="1.05" stroke-linecap="round" stroke-linejoin="round"><path vector-effect="non-scaling-stroke" transform="translate(0.00,0)" d="M0.1,-8.3 C0.5,-9.4 1.3,-10 2.4,-10 C3.7,-10 4.6,-9.2 4.6,-7.8 C4.6,-6.9 4.2,-6.1 3.5,-5.3 L0,0 L4.6,0"/><path vector-effect="non-scaling-stroke" transform="translate(5.81,0)" d="M0.9,-8.1 C1.9,-8.6 2.8,-9.3 3.4,-10 L3.4,0"/><path vector-effect="non-scaling-stroke" transform="translate(10.43,0)" d="M0,-0.45 L0.6,-0.45"/><path vector-effect="non-scaling-stroke" transform="translate(12.24,0)" d="M0,-0.45 L0.6,-0.45"/><path vector-effect="non-scaling-stroke" transform="translate(14.06,0)" d="M0,-0.45 L0.6,-0.45"/><path vector-effect="non-scaling-stroke" transform="translate(15.87,0)" d="M0.9,-8.1 C1.9,-8.6 2.8,-9.3 3.4,-10 L3.4,0"/><path vector-effect="non-scaling-stroke" transform="translate(20.49,0)" d="M0.9,-8.1 C1.9,-8.6 2.8,-9.3 3.4,-10 L3.4,0"/></g>
<g transform="translate(810.20,36.60) skewX(-17) scale(1.4300)" fill="none" stroke="#000" stroke-width="1.05" stroke-linecap="round" stroke-linejoin="round"><path vector-effect="non-scaling-stroke" transform="translate(0.00,0)" d="M0,0 L0,-10 M4.9,-10 L0,-4.3 M1.6,-6 L4.6,0"/><path vector-effect="non-scaling-stroke" transform="translate(6.48,0)" d="M0,-10 L2.5,0 L5.2,-10"/><path vector-effect="non-scaling-stroke" transform="translate(13.26,0)" d="M0.4,-10 L5,-10 L0,0 L5,0"/><path vector-effect="non-scaling-stroke" transform="translate(24.03,0)" d="M1.0,-11 Q0,-9.6 0,-7.5 L0,-2.3 Q0,-0.3 0.8,1.2"/><path vector-effect="non-scaling-stroke" transform="translate(26.61,0)" d="M0,0 L0,-10 M4.9,-10 L0,-4.3 M1.6,-6 L4.6,0"/><path vector-effect="non-scaling-stroke" transform="translate(33.09,0)" d="M0,-10 L2.5,0 L5.2,-10"/><path vector-effect="non-scaling-stroke" transform="translate(39.88,0)" d="M0,0 L0,-10 L2.9,-10 C4.2,-10 4.8,-9.1 4.8,-7.6 C4.8,-6.1 4.2,-5.2 2.9,-5.2 L0,-5.2"/><path vector-effect="non-scaling-stroke" transform="translate(46.26,0)" d="M0.2,-11 Q1,-9.6 1,-7.5 L1,-2.3 Q1,-0.3 0,1.2"/><path vector-effect="non-scaling-stroke" transform="translate(53.02,0)" d="M3.7,-10 L0,-2.8 L4.8,-2.8 M3.7,-10 L3.7,0"/><path vector-effect="non-scaling-stroke" transform="translate(59.40,0)" d="M0.1,-8.3 C0.5,-9.4 1.3,-10 2.4,-10 C3.7,-10 4.6,-9.2 4.6,-7.8 C4.6,-6.9 4.2,-6.1 3.5,-5.3 L0,0 L4.6,0"/><path vector-effect="non-scaling-stroke" transform="translate(65.59,0)" d="M0,-2.6 L0,-7.4 C0,-9.1 1,-10 2.3,-10 C3.6,-10 4.6,-9.1 4.6,-7.4 L4.6,-2.6 C4.6,-0.9 3.6,0 2.3,0 C1,0 0,-0.9 0,-2.6 Z"/><path vector-effect="non-scaling-stroke" transform="translate(71.77,0)" d="M0,-3.7 L4.4,-3.7"/><path vector-effect="non-scaling-stroke" transform="translate(77.75,0)" d="M0.9,-8.1 C1.9,-8.6 2.8,-9.3 3.4,-10 L3.4,0"/><path vector-effect="non-scaling-stroke" transform="translate(82.73,0)" d="M0.1,-8.3 C0.5,-9.4 1.3,-10 2.4,-10 C3.7,-10 4.6,-9.2 4.6,-7.8 C4.6,-6.9 4.2,-6.1 3.5,-5.3 L0,0 L4.6,0"/><path vector-effect="non-scaling-stroke" transform="translate(88.92,0)" d="M0,-2.6 L0,-7.4 C0,-9.1 1,-10 2.3,-10 C3.6,-10 4.6,-9.1 4.6,-7.4 L4.6,-2.6 C4.6,-0.9 3.6,0 2.3,0 C1,0 0,-0.9 0,-2.6 Z"/><path vector-effect="non-scaling-stroke" transform="translate(95.10,0)" d="M0,-3.7 L4.4,-3.7"/><path vector-effect="non-scaling-stroke" transform="translate(101.08,0)" d="M0,-10 L0,0 L3.8,0"/><path vector-effect="non-scaling-stroke" transform="translate(106.46,0)" d="M0,-0.45 L0.6,-0.45"/><path vector-effect="non-scaling-stroke" transform="translate(108.64,0)" d="M0,-2.6 L0,-7.4 C0,-9.1 1,-10 2.3,-10 C3.6,-10 4.6,-9.1 4.6,-7.4 L4.6,-2.6 C4.6,-0.9 3.6,0 2.3,0 C1,0 0,-0.9 0,-2.6 Z"/><path vector-effect="non-scaling-stroke" transform="translate(114.83,0)" d="M0,-2.6 L0,-7.4 C0,-9.1 1,-10 2.3,-10 C3.6,-10 4.6,-9.1 4.6,-7.4 L4.6,-2.6 C4.6,-0.9 3.6,0 2.3,0 C1,0 0,-0.9 0,-2.6 Z"/><path vector-effect="non-scaling-stroke" transform="translate(121.01,0)" d="M0,-0.45 L0.6,-0.45"/><path vector-effect="non-scaling-stroke" transform="translate(123.19,0)" d="M0,-2.6 L0,-7.4 C0,-9.1 1,-10 2.3,-10 C3.6,-10 4.6,-9.1 4.6,-7.4 L4.6,-2.6 C4.6,-0.9 3.6,0 2.3,0 C1,0 0,-0.9 0,-2.6 Z"/><path vector-effect="non-scaling-stroke" transform="translate(129.37,0)" d="M0,-2.6 L0,-7.4 C0,-9.1 1,-10 2.3,-10 C3.6,-10 4.6,-9.1 4.6,-7.4 L4.6,-2.6 C4.6,-0.9 3.6,0 2.3,0 C1,0 0,-0.9 0,-2.6 Z"/><path vector-effect="non-scaling-stroke" transform="translate(135.55,0)" d="M0,-2.6 L0,-7.4 C0,-9.1 1,-10 2.3,-10 C3.6,-10 4.6,-9.1 4.6,-7.4 L4.6,-2.6 C4.6,-0.9 3.6,0 2.3,0 C1,0 0,-0.9 0,-2.6 Z"/></g>
<g transform="translate(788.37,160.10) skewX(-17) scale(1.3600)" fill="none" stroke="#000" stroke-width="1.05" stroke-linecap="round" stroke-linejoin="round"><path vector-effect="non-scaling-stroke" transform="translate(0.00,0)" d="M0.2,-8.8 L0.5,-10 L4.6,-10 L1.2,0"/><path vector-effect="non-scaling-stroke" transform="translate(6.76,0)" d="M0,-2.6 L0,-7.4 C0,-9.1 1,-10 2.3,-10 C3.6,-10 4.6,-9.1 4.6,-7.4 L4.6,-2.6 C4.6,-0.9 3.6,0 2.3,0 C1,0 0,-0.9 0,-2.6 Z"/></g>
<g transform="translate(830.07,159.60) skewX(-17) scale(1.4000)" fill="none" stroke="#000" stroke-width="1.05" stroke-linecap="round" stroke-linejoin="round"><path vector-effect="non-scaling-stroke" transform="translate(0.00,0)" d="M0.9,-8.1 C1.9,-8.6 2.8,-9.3 3.4,-10 L3.4,0"/><path vector-effect="non-scaling-stroke" transform="translate(5.72,0)" d="M0,-2.6 L0,-7.4 C0,-9.1 1,-10 2.3,-10 C3.6,-10 4.6,-9.1 4.6,-7.4 L4.6,-2.6 C4.6,-0.9 3.6,0 2.3,0 C1,0 0,-0.9 0,-2.6 Z"/><path vector-effect="non-scaling-stroke" transform="translate(12.64,0)" d="M0,-2.6 L0,-7.4 C0,-9.1 1,-10 2.3,-10 C3.6,-10 4.6,-9.1 4.6,-7.4 L4.6,-2.6 C4.6,-0.9 3.6,0 2.3,0 C1,0 0,-0.9 0,-2.6 Z"/></g>
<g transform="translate(882.40,395.80) skewX(-17) scale(1.3800)" fill="none" stroke="#000" stroke-width="1.05" stroke-linecap="round" stroke-linejoin="round"><path vector-effect="non-scaling-stroke" transform="translate(0.00,0)" d="M0.1,-8.3 C0.5,-9.4 1.3,-10 2.4,-10 C3.7,-10 4.6,-9.2 4.6,-7.8 C4.6,-6.9 4.2,-6.1 3.5,-5.3 L0,0 L4.6,0"/><path vector-effect="non-scaling-stroke" transform="translate(7.03,0)" d="M0,-2.6 L0,-7.4 C0,-9.1 1,-10 2.3,-10 C3.6,-10 4.6,-9.1 4.6,-7.4 L4.6,-2.6 C4.6,-0.9 3.6,0 2.3,0 C1,0 0,-0.9 0,-2.6 Z"/><path vector-effect="non-scaling-stroke" transform="translate(14.07,0)" d="M0,-2.6 L0,-7.4 C0,-9.1 1,-10 2.3,-10 C3.6,-10 4.6,-9.1 4.6,-7.4 L4.6,-2.6 C4.6,-0.9 3.6,0 2.3,0 C1,0 0,-0.9 0,-2.6 Z"/></g>
<g transform="translate(808.11,528.50) skewX(-17) scale(1.4200)" fill="none" stroke="#000" stroke-width="1.05" stroke-linecap="round" stroke-linejoin="round"><path vector-effect="non-scaling-stroke" transform="translate(0.00,0)" d="M0.9,-8.1 C1.9,-8.6 2.8,-9.3 3.4,-10 L3.4,0"/><path vector-effect="non-scaling-stroke" transform="translate(5.46,0)" d="M4.3,-10 C1.8,-9.6 0,-7.8 0,-4.4 L0,-2.6 C0,-0.9 1,0 2.3,0 C3.6,0 4.6,-0.9 4.6,-2.6 L4.6,-3.3 C4.6,-4.9 3.7,-5.8 2.3,-5.8 L0.1,-5.8"/><path vector-effect="non-scaling-stroke" transform="translate(12.12,0)" d="M0,-2.6 L0,-7.4 C0,-9.1 1,-10 2.3,-10 C3.6,-10 4.6,-9.1 4.6,-7.4 L4.6,-2.6 C4.6,-0.9 3.6,0 2.3,0 C1,0 0,-0.9 0,-2.6 Z"/></g>
<g transform="translate(882.57,528.90) skewX(-17) scale(1.4000)" fill="none" stroke="#000" stroke-width="1.05" stroke-linecap="round" stroke-linejoin="round"><path vector-effect="non-scaling-stroke" transform="translate(0.00,0)" d="M0.9,-8.1 C1.9,-8.6 2.8,-9.3 3.4,-10 L3.4,0"/><path vector-effect="non-scaling-stroke" transform="translate(5.65,0)" d="M0,-2.6 L0,-7.4 C0,-9.1 1,-10 2.3,-10 C3.6,-10 4.6,-9.1 4.6,-7.4 L4.6,-2.6 C4.6,-0.9 3.6,0 2.3,0 C1,0 0,-0.9 0,-2.6 Z"/><path vector-effect="non-scaling-stroke" transform="translate(12.49,0)" d="M0,-2.6 L0,-7.4 C0,-9.1 1,-10 2.3,-10 C3.6,-10 4.6,-9.1 4.6,-7.4 L4.6,-2.6 C4.6,-0.9 3.6,0 2.3,0 C1,0 0,-0.9 0,-2.6 Z"/></g>
<g transform="translate(834.90,601.80) skewX(-17) scale(1.3300)" fill="none" stroke="#000" stroke-width="1.05" stroke-linecap="round" stroke-linejoin="round"><path vector-effect="non-scaling-stroke" transform="translate(0.00,0)" d="M0.1,-8.3 C0.5,-9.4 1.3,-10 2.4,-10 C3.7,-10 4.6,-9.2 4.6,-7.8 C4.6,-6.9 4.2,-6.1 3.5,-5.3 L0,0 L4.6,0"/><path vector-effect="non-scaling-stroke" transform="translate(6.80,0)" d="M4.4,-10 L0.7,-10 L0.5,-5.5 L2.2,-5.5 C3.7,-5.5 4.6,-4.5 4.6,-2.8 C4.6,-1.1 3.6,0 2.1,0 L0,0"/><path vector-effect="non-scaling-stroke" transform="translate(13.60,0)" d="M0,-2.6 L0,-7.4 C0,-9.1 1,-10 2.3,-10 C3.6,-10 4.6,-9.1 4.6,-7.4 L4.6,-2.6 C4.6,-0.9 3.6,0 2.3,0 C1,0 0,-0.9 0,-2.6 Z"/></g>
<g transform="translate(934.11,601.80) skewX(-17) scale(1.3300)" fill="none" stroke="#000" stroke-width="1.05" stroke-linecap="round" stroke-linejoin="round"><path vector-effect="non-scaling-stroke" transform="translate(0.00,0)" d="M0.9,-8.1 C1.9,-8.6 2.8,-9.3 3.4,-10 L3.4,0"/><path vector-effect="non-scaling-stroke" transform="translate(6.04,0)" d="M0,-2.6 L0,-7.4 C0,-9.1 1,-10 2.3,-10 C3.6,-10 4.6,-9.1 4.6,-7.4 L4.6,-2.6 C4.6,-0.9 3.6,0 2.3,0 C1,0 0,-0.9 0,-2.6 Z"/><path vector-effect="non-scaling-stroke" transform="translate(13.29,0)" d="M0,-2.6 L0,-7.4 C0,-9.1 1,-10 2.3,-10 C3.6,-10 4.6,-9.1 4.6,-7.4 L4.6,-2.6 C4.6,-0.9 3.6,0 2.3,0 C1,0 0,-0.9 0,-2.6 Z"/></g>
<g transform="translate(724.00,757.80) skewX(-17) scale(1.4000)" fill="none" stroke="#000" stroke-width="1.05" stroke-linecap="round" stroke-linejoin="round"><path vector-effect="non-scaling-stroke" transform="translate(0.00,0)" d="M0.6,-10 L2.4,-10 C3.7,-10 4.5,-9.2 4.5,-8 C4.5,-6.6 3.5,-5.6 1.9,-5.6 L1.2,-5.6 M1.9,-5.6 C3.6,-5.6 4.6,-4.5 4.6,-2.9 C4.6,-1.1 3.5,0 2,0 L0,0"/><path vector-effect="non-scaling-stroke" transform="translate(5.77,0)" d="M0.2,-8.8 L0.5,-10 L4.6,-10 L1.2,0"/></g>
<g transform="translate(884.00,757.90) skewX(-17) scale(1.4100)" fill="none" stroke="#000" stroke-width="1.05" stroke-linecap="round" stroke-linejoin="round"><path vector-effect="non-scaling-stroke" transform="translate(0.00,0)" d="M0.6,-10 L2.4,-10 C3.7,-10 4.5,-9.2 4.5,-8 C4.5,-6.6 3.5,-5.6 1.9,-5.6 L1.2,-5.6 M1.9,-5.6 C3.6,-5.6 4.6,-4.5 4.6,-2.9 C4.6,-1.1 3.5,0 2,0 L0,0"/><path vector-effect="non-scaling-stroke" transform="translate(5.86,0)" d="M2.3,-5.6 C1,-5.6 0.4,-6.6 0.4,-7.8 C0.4,-9.2 1.2,-10 2.35,-10 C3.6,-10 4.4,-9.2 4.4,-7.8 C4.4,-6.6 3.7,-5.6 2.3,-5.6 C0.9,-5.6 0,-4.6 0,-2.9 C0,-1.1 1,0 2.3,0 C3.6,0 4.6,-1.1 4.6,-2.9 C4.6,-4.6 3.7,-5.6 2.3,-5.6 Z"/><path vector-effect="non-scaling-stroke" transform="translate(11.72,0)" d="M2.3,-5.6 C1,-5.6 0.4,-6.6 0.4,-7.8 C0.4,-9.2 1.2,-10 2.35,-10 C3.6,-10 4.4,-9.2 4.4,-7.8 C4.4,-6.6 3.7,-5.6 2.3,-5.6 C0.9,-5.6 0,-4.6 0,-2.9 C0,-1.1 1,0 2.3,0 C3.6,0 4.6,-1.1 4.6,-2.9 C4.6,-4.6 3.7,-5.6 2.3,-5.6 Z"/></g>
<g transform="translate(132.20,256.16) rotate(-90) skewX(-17) scale(1.4700)" fill="none" stroke="#000" stroke-width="1.05" stroke-linecap="round" stroke-linejoin="round"><path vector-effect="non-scaling-stroke" transform="translate(0.00,0)" d="M3.7,-10 L0,-2.8 L4.8,-2.8 M3.7,-10 L3.7,0"/><path vector-effect="non-scaling-stroke" transform="translate(6.32,0)" d="M0.1,-8.3 C0.5,-9.4 1.3,-10 2.4,-10 C3.7,-10 4.6,-9.2 4.6,-7.8 C4.6,-6.9 4.2,-6.1 3.5,-5.3 L0,0 L4.6,0"/><path vector-effect="non-scaling-stroke" transform="translate(12.44,0)" d="M0,-2.6 L0,-7.4 C0,-9.1 1,-10 2.3,-10 C3.6,-10 4.6,-9.1 4.6,-7.4 L4.6,-2.6 C4.6,-0.9 3.6,0 2.3,0 C1,0 0,-0.9 0,-2.6 Z"/><path vector-effect="non-scaling-stroke" transform="translate(18.56,0)" d="M0,-6.2 L3.6,-6.2 M1.8,-8.4 L1.8,-4 M0,-1.6 L3.6,-1.6"/><path vector-effect="non-scaling-stroke" transform="translate(23.68,0)" d="M0.6,-10 L2.4,-10 C3.7,-10 4.5,-9.2 4.5,-8 C4.5,-6.6 3.5,-5.6 1.9,-5.6 L1.2,-5.6 M1.9,-5.6 C3.6,-5.6 4.6,-4.5 4.6,-2.9 C4.6,-1.1 3.5,0 2,0 L0,0"/></g>
<g transform="translate(132.20,664.66) rotate(-90) skewX(-17) scale(1.4700)" fill="none" stroke="#000" stroke-width="1.05" stroke-linecap="round" stroke-linejoin="round"><path vector-effect="non-scaling-stroke" transform="translate(0.00,0)" d="M3.7,-10 L0,-2.8 L4.8,-2.8 M3.7,-10 L3.7,0"/><path vector-effect="non-scaling-stroke" transform="translate(6.32,0)" d="M0.1,-8.3 C0.5,-9.4 1.3,-10 2.4,-10 C3.7,-10 4.6,-9.2 4.6,-7.8 C4.6,-6.9 4.2,-6.1 3.5,-5.3 L0,0 L4.6,0"/><path vector-effect="non-scaling-stroke" transform="translate(12.44,0)" d="M0,-2.6 L0,-7.4 C0,-9.1 1,-10 2.3,-10 C3.6,-10 4.6,-9.1 4.6,-7.4 L4.6,-2.6 C4.6,-0.9 3.6,0 2.3,0 C1,0 0,-0.9 0,-2.6 Z"/><path vector-effect="non-scaling-stroke" transform="translate(18.56,0)" d="M0,-6.2 L3.6,-6.2 M1.8,-8.4 L1.8,-4 M0,-1.6 L3.6,-1.6"/><path vector-effect="non-scaling-stroke" transform="translate(23.68,0)" d="M0.6,-10 L2.4,-10 C3.7,-10 4.5,-9.2 4.5,-8 C4.5,-6.6 3.5,-5.6 1.9,-5.6 L1.2,-5.6 M1.9,-5.6 C3.6,-5.6 4.6,-4.5 4.6,-2.9 C4.6,-1.1 3.5,0 2,0 L0,0"/></g>
<g transform="translate(680.70,247.00) rotate(-90) skewX(-17) scale(1.4500)" fill="none" stroke="#000" stroke-width="1.05" stroke-linecap="round" stroke-linejoin="round"><path vector-effect="non-scaling-stroke" transform="translate(0.00,0)" d="M0.9,-8.1 C1.9,-8.6 2.8,-9.3 3.4,-10 L3.4,0"/><path vector-effect="non-scaling-stroke" transform="translate(4.96,0)" d="M4.3,-10 C1.8,-9.6 0,-7.8 0,-4.4 L0,-2.6 C0,-0.9 1,0 2.3,0 C3.6,0 4.6,-0.9 4.6,-2.6 L4.6,-3.3 C4.6,-4.9 3.7,-5.8 2.3,-5.8 L0.1,-5.8"/><path vector-effect="non-scaling-stroke" transform="translate(11.13,0)" d="M0.9,-8.1 C1.9,-8.6 2.8,-9.3 3.4,-10 L3.4,0"/></g>
<g transform="translate(708.70,237.00) rotate(-90) skewX(-17) scale(1.4500)" fill="none" stroke="#000" stroke-width="1.05" stroke-linecap="round" stroke-linejoin="round"><path vector-effect="non-scaling-stroke" transform="translate(0.00,0)" d="M0.9,-8.1 C1.9,-8.6 2.8,-9.3 3.4,-10 L3.4,0"/><path vector-effect="non-scaling-stroke" transform="translate(5.21,0)" d="M0.1,-8.3 C0.5,-9.4 1.3,-10 2.4,-10 C3.7,-10 4.6,-9.2 4.6,-7.8 C4.6,-6.9 4.2,-6.1 3.5,-5.3 L0,0 L4.6,0"/><path vector-effect="non-scaling-stroke" transform="translate(11.62,0)" d="M0.1,-8.3 C0.5,-9.4 1.3,-10 2.4,-10 C3.7,-10 4.6,-9.2 4.6,-7.8 C4.6,-6.9 4.2,-6.1 3.5,-5.3 L0,0 L4.6,0"/></g>
<g transform="translate(737.20,166.70) rotate(-90) skewX(-17) scale(1.4800)" fill="none" stroke="#000" stroke-width="1.05" stroke-linecap="round" stroke-linejoin="round"><path vector-effect="non-scaling-stroke" transform="translate(0.00,0)" d="M4.4,-10 L0.7,-10 L0.5,-5.5 L2.2,-5.5 C3.7,-5.5 4.6,-4.5 4.6,-2.8 C4.6,-1.1 3.6,0 2.1,0 L0,0"/><path vector-effect="non-scaling-stroke" transform="translate(5.73,0)" d="M0,-2.6 L0,-7.4 C0,-9.1 1,-10 2.3,-10 C3.6,-10 4.6,-9.1 4.6,-7.4 L4.6,-2.6 C4.6,-0.9 3.6,0 2.3,0 C1,0 0,-0.9 0,-2.6 Z"/></g>
<g transform="translate(737.00,500.00) rotate(-90) skewX(-17) scale(1.4800)" fill="none" stroke="#000" stroke-width="1.05" stroke-linecap="round" stroke-linejoin="round"><path vector-effect="non-scaling-stroke" transform="translate(0.00,0)" d="M4.4,-10 L0.7,-10 L0.5,-5.5 L2.2,-5.5 C3.7,-5.5 4.6,-4.5 4.6,-2.8 C4.6,-1.1 3.6,0 2.1,0 L0,0"/><path vector-effect="non-scaling-stroke" transform="translate(5.86,0)" d="M0,-2.6 L0,-7.4 C0,-9.1 1,-10 2.3,-10 C3.6,-10 4.6,-9.1 4.6,-7.4 L4.6,-2.6 C4.6,-0.9 3.6,0 2.3,0 C1,0 0,-0.9 0,-2.6 Z"/></g>
</svg>
</body></html>
